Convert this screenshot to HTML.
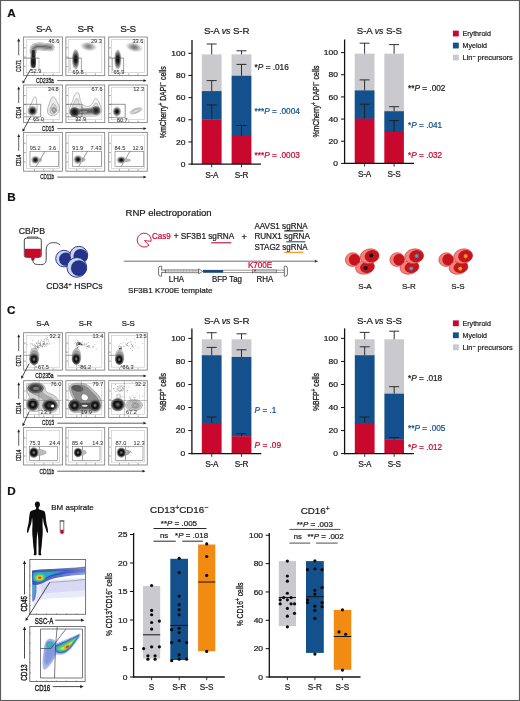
<!DOCTYPE html>
<html lang="en">
<head>
<meta charset="utf-8">
<title>Figure</title>
<style>
html,body{margin:0;padding:0;background:#fff;}
body{width:520px;height:701px;overflow:hidden;}
svg{display:block;font-family:'Liberation Sans', Arial, sans-serif;color:#1c1c1c;}
text{fill:currentColor;stroke:currentColor;stroke-width:0.22px;}
</style>
</head>
<body>
<svg width="520" height="701" viewBox="0 0 520 701" fill="#1c1c1c">
<defs>
<filter id="b0" x="-20%" y="-20%" width="140%" height="140%"><feGaussianBlur stdDeviation="0.3"/></filter>
<filter id="b0u" filterUnits="userSpaceOnUse" x="0" y="0" width="520" height="701"><feGaussianBlur stdDeviation="0.3"/></filter>
<filter id="b1" x="-20%" y="-20%" width="140%" height="140%"><feGaussianBlur stdDeviation="0.6"/></filter>
<filter id="b2" x="-20%" y="-20%" width="140%" height="140%"><feGaussianBlur stdDeviation="1.2"/></filter>
<linearGradient id="band1" x1="0" y1="0" x2="1" y2="0"><stop offset="0" stop-color="#3a50c2"/><stop offset="0.45" stop-color="#4c61cc"/><stop offset="1" stop-color="#8996e0"/></linearGradient>
<linearGradient id="band2" x1="0" y1="0" x2="1" y2="0"><stop offset="0" stop-color="#2a3fb0"/><stop offset="0.5" stop-color="#3b50c0"/><stop offset="1" stop-color="#6f7fd6"/></linearGradient>
</defs>
<rect x="0.55" y="0.50" width="518.90" height="700.00" fill="#fff" stroke="#5a5a5a" stroke-width="1.1" />
<text font-size="11.70" color="#111" font-weight="bold" transform="translate(7.30 16.90) scale(1.0 1)">A</text>
<text font-size="11.70" color="#111" font-weight="bold" transform="translate(7.30 200.70) scale(1.0 1)">B</text>
<text font-size="11.70" color="#111" font-weight="bold" transform="translate(7.10 313.90) scale(1.0 1)">C</text>
<text font-size="11.70" color="#111" font-weight="bold" transform="translate(7.30 495.20) scale(1.0 1)">D</text>
<rect x="201.80" y="54.35" width="19.80" height="37.03" fill="#C9C9CE" />
<rect x="201.80" y="91.08" width="19.80" height="28.55" fill="#14508C" />
<rect x="201.80" y="119.34" width="19.80" height="44.76" fill="#C9082E" />
<line x1="211.70" y1="119.34" x2="211.70" y2="104.90" stroke="#1c1c1c" stroke-width="0.9" />
<line x1="206.70" y1="104.90" x2="216.70" y2="104.90" stroke="#1c1c1c" stroke-width="0.9" />
<line x1="211.70" y1="91.08" x2="211.70" y2="80.60" stroke="#1c1c1c" stroke-width="0.9" />
<line x1="206.70" y1="80.60" x2="216.70" y2="80.60" stroke="#1c1c1c" stroke-width="0.9" />
<line x1="211.70" y1="54.35" x2="211.70" y2="44.00" stroke="#1c1c1c" stroke-width="0.9" />
<line x1="206.70" y1="44.00" x2="216.70" y2="44.00" stroke="#1c1c1c" stroke-width="0.9" />
<rect x="231.60" y="54.35" width="19.80" height="21.74" fill="#C9C9CE" />
<rect x="231.60" y="75.79" width="19.80" height="60.24" fill="#14508C" />
<rect x="231.60" y="135.74" width="19.80" height="28.36" fill="#C9082E" />
<line x1="241.50" y1="135.74" x2="241.50" y2="125.50" stroke="#1c1c1c" stroke-width="0.9" />
<line x1="236.50" y1="125.50" x2="246.50" y2="125.50" stroke="#1c1c1c" stroke-width="0.9" />
<line x1="241.50" y1="75.79" x2="241.50" y2="64.40" stroke="#1c1c1c" stroke-width="0.9" />
<line x1="236.50" y1="64.40" x2="246.50" y2="64.40" stroke="#1c1c1c" stroke-width="0.9" />
<line x1="241.50" y1="54.35" x2="241.50" y2="50.80" stroke="#1c1c1c" stroke-width="0.9" />
<line x1="236.50" y1="50.80" x2="246.50" y2="50.80" stroke="#1c1c1c" stroke-width="0.9" />
<line x1="192.00" y1="40.00" x2="192.00" y2="164.70" stroke="#111" stroke-width="1.3" />
<line x1="191.40" y1="164.10" x2="261.00" y2="164.10" stroke="#111" stroke-width="1.3" />
<line x1="188.40" y1="164.10" x2="192.00" y2="164.10" stroke="#111" stroke-width="1.0" />
<text font-size="7.39" text-anchor="end" transform="translate(185.40 166.75) scale(1.15 1)">0</text>
<line x1="188.40" y1="141.94" x2="192.00" y2="141.94" stroke="#111" stroke-width="1.0" />
<text font-size="7.39" text-anchor="end" transform="translate(185.40 144.59) scale(1.15 1)">20</text>
<line x1="188.40" y1="119.78" x2="192.00" y2="119.78" stroke="#111" stroke-width="1.0" />
<text font-size="7.39" text-anchor="end" transform="translate(185.40 122.43) scale(1.15 1)">40</text>
<line x1="188.40" y1="97.62" x2="192.00" y2="97.62" stroke="#111" stroke-width="1.0" />
<text font-size="7.39" text-anchor="end" transform="translate(185.40 100.27) scale(1.15 1)">60</text>
<line x1="188.40" y1="75.46" x2="192.00" y2="75.46" stroke="#111" stroke-width="1.0" />
<text font-size="7.39" text-anchor="end" transform="translate(185.40 78.11) scale(1.15 1)">80</text>
<line x1="188.40" y1="53.30" x2="192.00" y2="53.30" stroke="#111" stroke-width="1.0" />
<text font-size="7.39" text-anchor="end" transform="translate(185.40 55.95) scale(1.15 1)">100</text>
<line x1="211.70" y1="164.10" x2="211.70" y2="167.30" stroke="#1c1c1c" stroke-width="0.9" />
<text font-size="8.20" text-anchor="middle" transform="translate(211.70 177.70) scale(1.0 1)" letter-spacing="-0.2">S-A</text>
<line x1="241.50" y1="164.10" x2="241.50" y2="167.30" stroke="#1c1c1c" stroke-width="0.9" />
<text font-size="8.20" text-anchor="middle" transform="translate(241.50 177.70) scale(1.0 1)" letter-spacing="-0.2">S-R</text>
<text font-size="9.70" text-anchor="middle" transform="translate(226.60 34.40) scale(1.0 1)" letter-spacing="-0.12">S-A <tspan font-style="italic" font-size="92%">vs</tspan> S-R</text>
<text x="166.10" y="102.20" font-size="9.0" text-anchor="middle" textLength="72" lengthAdjust="spacingAndGlyphs" transform="rotate(-90 166.10 102.20)" style="stroke-width:0.3px">%mCherry<tspan font-size="70%" dy="-0.42em">+</tspan><tspan dy="0.294em" font-size="100%">​</tspan> DAPI<tspan font-size="70%" dy="-0.42em">−</tspan><tspan dy="0.294em" font-size="100%">​</tspan> cells</text>
<text font-size="8.25" transform="translate(254.60 70.00) scale(1.0 1)">*<tspan font-style="italic">P</tspan> = .016</text>
<text font-size="8.25" color="#14508C" transform="translate(254.60 113.90) scale(1.0 1)">***<tspan font-style="italic">P</tspan> = .0004</text>
<text font-size="8.25" color="#C9082E" transform="translate(254.60 158.00) scale(1.0 1)">***<tspan font-style="italic">P</tspan> = .0003</text>
<rect x="354.70" y="53.65" width="19.80" height="37.03" fill="#C9C9CE" />
<rect x="354.70" y="90.38" width="19.80" height="28.55" fill="#14508C" />
<rect x="354.70" y="118.64" width="19.80" height="44.76" fill="#C9082E" />
<line x1="364.60" y1="118.64" x2="364.60" y2="104.20" stroke="#1c1c1c" stroke-width="0.9" />
<line x1="359.60" y1="104.20" x2="369.60" y2="104.20" stroke="#1c1c1c" stroke-width="0.9" />
<line x1="364.60" y1="90.38" x2="364.60" y2="79.90" stroke="#1c1c1c" stroke-width="0.9" />
<line x1="359.60" y1="79.90" x2="369.60" y2="79.90" stroke="#1c1c1c" stroke-width="0.9" />
<line x1="364.60" y1="53.65" x2="364.60" y2="43.20" stroke="#1c1c1c" stroke-width="0.9" />
<line x1="359.60" y1="43.20" x2="369.60" y2="43.20" stroke="#1c1c1c" stroke-width="0.9" />
<rect x="384.30" y="53.65" width="19.60" height="57.86" fill="#C9C9CE" />
<rect x="384.30" y="111.21" width="19.60" height="20.80" fill="#14508C" />
<rect x="384.30" y="131.71" width="19.60" height="31.69" fill="#C9082E" />
<line x1="394.10" y1="131.71" x2="394.10" y2="120.60" stroke="#1c1c1c" stroke-width="0.9" />
<line x1="389.10" y1="120.60" x2="399.10" y2="120.60" stroke="#1c1c1c" stroke-width="0.9" />
<line x1="394.10" y1="111.21" x2="394.10" y2="106.70" stroke="#1c1c1c" stroke-width="0.9" />
<line x1="389.10" y1="106.70" x2="399.10" y2="106.70" stroke="#1c1c1c" stroke-width="0.9" />
<line x1="394.10" y1="53.65" x2="394.10" y2="44.60" stroke="#1c1c1c" stroke-width="0.9" />
<line x1="389.10" y1="44.60" x2="399.10" y2="44.60" stroke="#1c1c1c" stroke-width="0.9" />
<line x1="344.60" y1="39.50" x2="344.60" y2="164.00" stroke="#111" stroke-width="1.3" />
<line x1="344.00" y1="163.40" x2="414.00" y2="163.40" stroke="#111" stroke-width="1.3" />
<line x1="341.00" y1="163.40" x2="344.60" y2="163.40" stroke="#111" stroke-width="1.0" />
<text font-size="7.39" text-anchor="end" transform="translate(338.00 166.05) scale(1.15 1)">0</text>
<line x1="341.00" y1="141.24" x2="344.60" y2="141.24" stroke="#111" stroke-width="1.0" />
<text font-size="7.39" text-anchor="end" transform="translate(338.00 143.89) scale(1.15 1)">20</text>
<line x1="341.00" y1="119.08" x2="344.60" y2="119.08" stroke="#111" stroke-width="1.0" />
<text font-size="7.39" text-anchor="end" transform="translate(338.00 121.73) scale(1.15 1)">40</text>
<line x1="341.00" y1="96.92" x2="344.60" y2="96.92" stroke="#111" stroke-width="1.0" />
<text font-size="7.39" text-anchor="end" transform="translate(338.00 99.57) scale(1.15 1)">60</text>
<line x1="341.00" y1="74.76" x2="344.60" y2="74.76" stroke="#111" stroke-width="1.0" />
<text font-size="7.39" text-anchor="end" transform="translate(338.00 77.41) scale(1.15 1)">80</text>
<line x1="341.00" y1="52.60" x2="344.60" y2="52.60" stroke="#111" stroke-width="1.0" />
<text font-size="7.39" text-anchor="end" transform="translate(338.00 55.25) scale(1.15 1)">100</text>
<line x1="364.60" y1="163.40" x2="364.60" y2="166.60" stroke="#1c1c1c" stroke-width="0.9" />
<text font-size="8.20" text-anchor="middle" transform="translate(364.60 177.00) scale(1.0 1)" letter-spacing="-0.2">S-A</text>
<line x1="394.10" y1="163.40" x2="394.10" y2="166.60" stroke="#1c1c1c" stroke-width="0.9" />
<text font-size="8.20" text-anchor="middle" transform="translate(394.10 177.00) scale(1.0 1)" letter-spacing="-0.2">S-S</text>
<text font-size="9.70" text-anchor="middle" transform="translate(379.30 33.50) scale(1.0 1)" letter-spacing="-0.12">S-A <tspan font-style="italic" font-size="92%">vs</tspan> S-S</text>
<text x="318.90" y="101.60" font-size="9.0" text-anchor="middle" textLength="72" lengthAdjust="spacingAndGlyphs" transform="rotate(-90 318.90 101.60)" style="stroke-width:0.3px">%mCherry<tspan font-size="70%" dy="-0.42em">+</tspan><tspan dy="0.294em" font-size="100%">​</tspan> DAPI<tspan font-size="70%" dy="-0.42em">−</tspan><tspan dy="0.294em" font-size="100%">​</tspan> cells</text>
<text font-size="8.25" transform="translate(408.00 90.90) scale(1.0 1)">**<tspan font-style="italic">P</tspan> = .002</text>
<text font-size="8.25" color="#14508C" transform="translate(408.00 127.80) scale(1.0 1)">*<tspan font-style="italic">P</tspan> = .041</text>
<text font-size="8.25" color="#C9082E" transform="translate(408.00 157.50) scale(1.0 1)">*<tspan font-style="italic">P</tspan> = .032</text>
<rect x="452.90" y="30.65" width="5.90" height="5.80" fill="#C9082E" />
<text font-size="7.70" x="462.50" y="36.20" textLength="28.40" lengthAdjust="spacingAndGlyphs">Erythroid</text>
<rect x="452.90" y="42.65" width="5.90" height="5.80" fill="#14508C" />
<text font-size="7.70" x="462.50" y="48.20" textLength="24.50" lengthAdjust="spacingAndGlyphs">Myeloid</text>
<rect x="452.90" y="54.65" width="5.90" height="5.80" fill="#C9C9CE" />
<text font-size="7.70" x="462.50" y="60.20" textLength="50.30" lengthAdjust="spacingAndGlyphs">Lin<tspan font-size="70%" dy="-0.42em">−</tspan><tspan dy="0.294em" font-size="100%">​</tspan> precursors</text>
<rect x="201.80" y="339.32" width="19.80" height="16.20" fill="#C9C9CE" />
<rect x="201.80" y="355.22" width="19.80" height="68.04" fill="#14508C" />
<rect x="201.80" y="422.96" width="19.80" height="30.64" fill="#C9082E" />
<line x1="211.70" y1="422.96" x2="211.70" y2="417.00" stroke="#1c1c1c" stroke-width="0.9" />
<line x1="206.70" y1="417.00" x2="216.70" y2="417.00" stroke="#1c1c1c" stroke-width="0.9" />
<line x1="211.70" y1="355.22" x2="211.70" y2="347.40" stroke="#1c1c1c" stroke-width="0.9" />
<line x1="206.70" y1="347.40" x2="216.70" y2="347.40" stroke="#1c1c1c" stroke-width="0.9" />
<line x1="211.70" y1="339.32" x2="211.70" y2="332.70" stroke="#1c1c1c" stroke-width="0.9" />
<line x1="206.70" y1="332.70" x2="216.70" y2="332.70" stroke="#1c1c1c" stroke-width="0.9" />
<rect x="231.60" y="339.32" width="19.80" height="17.93" fill="#C9C9CE" />
<rect x="231.60" y="356.95" width="19.80" height="79.56" fill="#14508C" />
<rect x="231.60" y="436.20" width="19.80" height="17.40" fill="#C9082E" />
<line x1="241.50" y1="436.20" x2="241.50" y2="433.70" stroke="#1c1c1c" stroke-width="0.9" />
<line x1="236.50" y1="433.70" x2="246.50" y2="433.70" stroke="#1c1c1c" stroke-width="0.9" />
<line x1="241.50" y1="356.95" x2="241.50" y2="349.80" stroke="#1c1c1c" stroke-width="0.9" />
<line x1="236.50" y1="349.80" x2="246.50" y2="349.80" stroke="#1c1c1c" stroke-width="0.9" />
<line x1="241.50" y1="339.32" x2="241.50" y2="333.80" stroke="#1c1c1c" stroke-width="0.9" />
<line x1="236.50" y1="333.80" x2="246.50" y2="333.80" stroke="#1c1c1c" stroke-width="0.9" />
<line x1="191.90" y1="328.40" x2="191.90" y2="454.20" stroke="#111" stroke-width="1.3" />
<line x1="191.30" y1="453.60" x2="261.30" y2="453.60" stroke="#111" stroke-width="1.3" />
<line x1="188.30" y1="453.60" x2="191.90" y2="453.60" stroke="#111" stroke-width="1.0" />
<text font-size="7.39" text-anchor="end" transform="translate(185.30 456.25) scale(1.15 1)">0</text>
<line x1="188.30" y1="430.56" x2="191.90" y2="430.56" stroke="#111" stroke-width="1.0" />
<text font-size="7.39" text-anchor="end" transform="translate(185.30 433.21) scale(1.15 1)">20</text>
<line x1="188.30" y1="407.52" x2="191.90" y2="407.52" stroke="#111" stroke-width="1.0" />
<text font-size="7.39" text-anchor="end" transform="translate(185.30 410.17) scale(1.15 1)">40</text>
<line x1="188.30" y1="384.48" x2="191.90" y2="384.48" stroke="#111" stroke-width="1.0" />
<text font-size="7.39" text-anchor="end" transform="translate(185.30 387.13) scale(1.15 1)">60</text>
<line x1="188.30" y1="361.44" x2="191.90" y2="361.44" stroke="#111" stroke-width="1.0" />
<text font-size="7.39" text-anchor="end" transform="translate(185.30 364.09) scale(1.15 1)">80</text>
<line x1="188.30" y1="338.40" x2="191.90" y2="338.40" stroke="#111" stroke-width="1.0" />
<text font-size="7.39" text-anchor="end" transform="translate(185.30 341.05) scale(1.15 1)">100</text>
<line x1="211.70" y1="453.60" x2="211.70" y2="456.80" stroke="#1c1c1c" stroke-width="0.9" />
<text font-size="8.20" text-anchor="middle" transform="translate(211.70 467.20) scale(1.0 1)" letter-spacing="-0.2">S-A</text>
<line x1="241.50" y1="453.60" x2="241.50" y2="456.80" stroke="#1c1c1c" stroke-width="0.9" />
<text font-size="8.20" text-anchor="middle" transform="translate(241.50 467.20) scale(1.0 1)" letter-spacing="-0.2">S-R</text>
<text font-size="9.70" text-anchor="middle" transform="translate(226.60 324.00) scale(1.0 1)" letter-spacing="-0.12">S-A <tspan font-style="italic" font-size="92%">vs</tspan> S-R</text>
<text x="165.90" y="392.00" font-size="9.0" text-anchor="middle" textLength="38" lengthAdjust="spacingAndGlyphs" transform="rotate(-90 165.90 392.00)" style="stroke-width:0.3px">%BFP<tspan font-size="70%" dy="-0.42em">+</tspan><tspan dy="0.294em" font-size="100%">​</tspan> cells</text>
<text font-size="8.25" color="#14508C" transform="translate(254.60 413.20) scale(1.0 1)"><tspan font-style="italic">P</tspan> = .1</text>
<text font-size="8.25" color="#C9082E" transform="translate(254.60 447.50) scale(1.0 1)"><tspan font-style="italic">P</tspan> = .09</text>
<rect x="354.80" y="339.32" width="19.80" height="16.20" fill="#C9C9CE" />
<rect x="354.80" y="355.22" width="19.80" height="68.04" fill="#14508C" />
<rect x="354.80" y="422.96" width="19.80" height="30.64" fill="#C9082E" />
<line x1="364.70" y1="422.96" x2="364.70" y2="417.00" stroke="#1c1c1c" stroke-width="0.9" />
<line x1="359.70" y1="417.00" x2="369.70" y2="417.00" stroke="#1c1c1c" stroke-width="0.9" />
<line x1="364.70" y1="355.22" x2="364.70" y2="346.80" stroke="#1c1c1c" stroke-width="0.9" />
<line x1="359.70" y1="346.80" x2="369.70" y2="346.80" stroke="#1c1c1c" stroke-width="0.9" />
<line x1="364.70" y1="339.32" x2="364.70" y2="332.40" stroke="#1c1c1c" stroke-width="0.9" />
<line x1="359.70" y1="332.40" x2="369.70" y2="332.40" stroke="#1c1c1c" stroke-width="0.9" />
<rect x="384.40" y="339.32" width="19.60" height="54.67" fill="#C9C9CE" />
<rect x="384.40" y="393.70" width="19.60" height="45.92" fill="#14508C" />
<rect x="384.40" y="439.32" width="19.60" height="14.28" fill="#C9082E" />
<line x1="394.20" y1="439.32" x2="394.20" y2="437.60" stroke="#1c1c1c" stroke-width="0.9" />
<line x1="389.20" y1="437.60" x2="399.20" y2="437.60" stroke="#1c1c1c" stroke-width="0.9" />
<line x1="394.20" y1="393.70" x2="394.20" y2="386.70" stroke="#1c1c1c" stroke-width="0.9" />
<line x1="389.20" y1="386.70" x2="399.20" y2="386.70" stroke="#1c1c1c" stroke-width="0.9" />
<line x1="394.20" y1="339.32" x2="394.20" y2="331.20" stroke="#1c1c1c" stroke-width="0.9" />
<line x1="389.20" y1="331.20" x2="399.20" y2="331.20" stroke="#1c1c1c" stroke-width="0.9" />
<line x1="344.60" y1="328.40" x2="344.60" y2="454.20" stroke="#111" stroke-width="1.3" />
<line x1="344.00" y1="453.60" x2="414.00" y2="453.60" stroke="#111" stroke-width="1.3" />
<line x1="341.00" y1="453.60" x2="344.60" y2="453.60" stroke="#111" stroke-width="1.0" />
<text font-size="7.39" text-anchor="end" transform="translate(338.00 456.25) scale(1.15 1)">0</text>
<line x1="341.00" y1="430.56" x2="344.60" y2="430.56" stroke="#111" stroke-width="1.0" />
<text font-size="7.39" text-anchor="end" transform="translate(338.00 433.21) scale(1.15 1)">20</text>
<line x1="341.00" y1="407.52" x2="344.60" y2="407.52" stroke="#111" stroke-width="1.0" />
<text font-size="7.39" text-anchor="end" transform="translate(338.00 410.17) scale(1.15 1)">40</text>
<line x1="341.00" y1="384.48" x2="344.60" y2="384.48" stroke="#111" stroke-width="1.0" />
<text font-size="7.39" text-anchor="end" transform="translate(338.00 387.13) scale(1.15 1)">60</text>
<line x1="341.00" y1="361.44" x2="344.60" y2="361.44" stroke="#111" stroke-width="1.0" />
<text font-size="7.39" text-anchor="end" transform="translate(338.00 364.09) scale(1.15 1)">80</text>
<line x1="341.00" y1="338.40" x2="344.60" y2="338.40" stroke="#111" stroke-width="1.0" />
<text font-size="7.39" text-anchor="end" transform="translate(338.00 341.05) scale(1.15 1)">100</text>
<line x1="364.70" y1="453.60" x2="364.70" y2="456.80" stroke="#1c1c1c" stroke-width="0.9" />
<text font-size="8.20" text-anchor="middle" transform="translate(364.70 467.20) scale(1.0 1)" letter-spacing="-0.2">S-A</text>
<line x1="394.20" y1="453.60" x2="394.20" y2="456.80" stroke="#1c1c1c" stroke-width="0.9" />
<text font-size="8.20" text-anchor="middle" transform="translate(394.20 467.20) scale(1.0 1)" letter-spacing="-0.2">S-S</text>
<text font-size="9.70" text-anchor="middle" transform="translate(379.40 324.00) scale(1.0 1)" letter-spacing="-0.12">S-A <tspan font-style="italic" font-size="92%">vs</tspan> S-S</text>
<text x="318.60" y="392.00" font-size="9.0" text-anchor="middle" textLength="38" lengthAdjust="spacingAndGlyphs" transform="rotate(-90 318.60 392.00)" style="stroke-width:0.3px">%BFP<tspan font-size="70%" dy="-0.42em">+</tspan><tspan dy="0.294em" font-size="100%">​</tspan> cells</text>
<text font-size="8.25" transform="translate(408.00 380.50) scale(1.0 1)">*<tspan font-style="italic">P</tspan> = .018</text>
<text font-size="8.25" color="#14508C" transform="translate(408.00 430.90) scale(1.0 1)">**<tspan font-style="italic">P</tspan> = .005</text>
<text font-size="8.25" color="#C9082E" transform="translate(408.00 449.90) scale(1.0 1)">*<tspan font-style="italic">P</tspan> = .012</text>
<rect x="452.90" y="320.40" width="5.90" height="5.80" fill="#C9082E" />
<text font-size="7.70" x="462.50" y="325.95" textLength="28.40" lengthAdjust="spacingAndGlyphs">Erythroid</text>
<rect x="452.90" y="332.40" width="5.90" height="5.80" fill="#14508C" />
<text font-size="7.70" x="462.50" y="337.95" textLength="24.50" lengthAdjust="spacingAndGlyphs">Myeloid</text>
<rect x="452.90" y="344.40" width="5.90" height="5.80" fill="#C9C9CE" />
<text font-size="7.70" x="462.50" y="349.95" textLength="50.30" lengthAdjust="spacingAndGlyphs">Lin<tspan font-size="70%" dy="-0.42em">−</tspan><tspan dy="0.294em" font-size="100%">​</tspan> precursors</text>
<text font-size="8.60" x="18.80" y="233.80" textLength="26.20" lengthAdjust="spacingAndGlyphs">CB/PB</text>
<path d="M27.5 238.3 L27.5 237 L37.7 237 L37.7 238.3" fill="none" stroke="#333" stroke-width="0.8"/>
<rect x="24.3" y="238.2" width="17" height="19.2" rx="2" ry="2" fill="#fff" stroke="#333" stroke-width="0.9"/>
<path d="M24.75 248.8 L40.85 248.8 L40.85 255.4 Q40.85 256.95 39.3 256.95 L26.3 256.95 Q24.75 256.95 24.75 255.4 Z" fill="#C9082E"/>
<path d="M31.2 257.3 L34.6 257.3 L34.0 260.2 L31.8 260.2 Z" fill="#C9082E" stroke="#7a0d1c" stroke-width="0.4"/>
<path d="M32.9 260.2 C32.9 264.5 36 264.6 40.5 264.6 C45 264.6 46.2 263 46.2 258 L46.2 250 C46.2 244 50 242.6 53.5 242.6 C57 242.6 58.8 243.6 60.2 245" fill="none" stroke="#222" stroke-width="0.8"/>
<circle cx="64.0" cy="258.6" r="8.3" fill="#C9D6F0" stroke="#1F2C7C" stroke-width="0.9"/>
<circle cx="65.72" cy="259.22" r="6.64" fill="#25338A"/>
<circle cx="78.8" cy="255.2" r="8.9" fill="#C9D6F0" stroke="#1F2C7C" stroke-width="0.9"/>
<circle cx="80.57" cy="256.03" r="7.12" fill="#25338A"/>
<circle cx="76.8" cy="267.4" r="9.9" fill="#C9D6F0" stroke="#1F2C7C" stroke-width="0.9"/>
<circle cx="78.85" cy="268.14" r="7.92" fill="#25338A"/>
<text font-size="8.60" x="46.30" y="288.80" textLength="56.20" lengthAdjust="spacingAndGlyphs">CD34<tspan font-size="70%" dy="-0.42em">+</tspan><tspan dy="0.294em" font-size="100%">​</tspan> HSPCs</text>
<text font-size="9.60" x="125.50" y="215.60" textLength="86.20" lengthAdjust="spacingAndGlyphs">RNP electroporation</text>
<path d="M151.1 241.3 A7.0 7.0 0 1 0 149 245.2 L144.4 240.6 Z" fill="none" stroke="#C9082E" stroke-width="0.9" stroke-linejoin="round"/>
<text font-size="8.20" color="#C9082E" x="152.00" y="238.60" textLength="18.80" lengthAdjust="spacingAndGlyphs">Cas9</text>
<text font-size="8.20" x="173.80" y="238.60" textLength="60.40" lengthAdjust="spacingAndGlyphs">+ SF3B1 sgRNA</text>
<line x1="211.30" y1="242.80" x2="231.30" y2="242.80" stroke="#C9082E" stroke-width="1.1" />
<text font-size="9.20" transform="translate(241.40 239.60) scale(1.0 1)">+</text>
<text font-size="8.20" x="254.40" y="228.50" textLength="53.30" lengthAdjust="spacingAndGlyphs">AAVS1 sgRNA</text>
<text font-size="8.20" x="254.40" y="238.90" textLength="55.40" lengthAdjust="spacingAndGlyphs">RUNX1 sgRNA</text>
<text font-size="8.20" x="254.40" y="249.60" textLength="53.30" lengthAdjust="spacingAndGlyphs">STAG2 sgRNA</text>
<line x1="284.30" y1="230.90" x2="303.40" y2="230.90" stroke="#111" stroke-width="1.1" />
<line x1="286.30" y1="241.80" x2="305.40" y2="241.80" stroke="#14508C" stroke-width="1.1" />
<line x1="284.30" y1="252.30" x2="303.40" y2="252.30" stroke="#F28B12" stroke-width="1.1" />
<line x1="123.80" y1="261.20" x2="315.30" y2="261.20" stroke="#4a4a4a" stroke-width="0.8" />
<polygon points="318.20,261.20 314.80,262.80 314.80,259.60" fill="#4a4a4a"/>
<path d="M161.6 266.2 L160.3 266.2 Q158.6 266.2 158.6 268.2 L158.6 274.2 Q158.6 276.2 160.3 276.2 L161.6 276.2 L161.6 272.4 L165.5 272.4 L165.5 270.1 L161.6 270.1 Z" fill="#fff" stroke="#333" stroke-width="0.7"/>
<rect x="165.50" y="269.90" width="33.20" height="2.90" fill="#d9d9d9" stroke="#444" stroke-width="0.6" />
<line x1="168.50" y1="270.00" x2="168.50" y2="272.70" stroke="#999" stroke-width="0.5" />
<line x1="171.50" y1="270.00" x2="171.50" y2="272.70" stroke="#999" stroke-width="0.5" />
<line x1="174.50" y1="270.00" x2="174.50" y2="272.70" stroke="#999" stroke-width="0.5" />
<line x1="177.50" y1="270.00" x2="177.50" y2="272.70" stroke="#999" stroke-width="0.5" />
<line x1="180.50" y1="270.00" x2="180.50" y2="272.70" stroke="#999" stroke-width="0.5" />
<line x1="183.50" y1="270.00" x2="183.50" y2="272.70" stroke="#999" stroke-width="0.5" />
<line x1="186.50" y1="270.00" x2="186.50" y2="272.70" stroke="#999" stroke-width="0.5" />
<line x1="189.50" y1="270.00" x2="189.50" y2="272.70" stroke="#999" stroke-width="0.5" />
<line x1="192.50" y1="270.00" x2="192.50" y2="272.70" stroke="#999" stroke-width="0.5" />
<line x1="195.50" y1="270.00" x2="195.50" y2="272.70" stroke="#999" stroke-width="0.5" />
<path d="M198.7 268.8 L202.6 271.35 L198.7 273.9 Z" fill="#fff" stroke="#333" stroke-width="0.6"/>
<rect x="203.00" y="269.90" width="20.20" height="2.90" fill="#1B4774" />
<path d="M223.2 270.2 L252.5 270.2 M223.2 272.5 L252.5 272.5" stroke="#444" stroke-width="0.55" fill="none"/>
<rect x="252.50" y="269.90" width="23.80" height="2.90" fill="#d2d2d2" stroke="#444" stroke-width="0.6" />
<rect x="254.20" y="269.70" width="1.60" height="1.60" fill="#C9082E" />
<path d="M276.3 270.2 L284.3 270.2 M276.3 272.5 L284.3 272.5" stroke="#444" stroke-width="0.55" fill="none"/>
<path d="M284.3 266.2 L285.6 266.2 Q287.4 266.2 287.4 268.2 L287.4 274.2 Q287.4 276.2 285.6 276.2 L284.3 276.2 Z" fill="#fff" stroke="#333" stroke-width="0.7"/>
<text font-size="8.20" color="#C9082E" x="248.00" y="268.40" textLength="24.20" lengthAdjust="spacingAndGlyphs">K700E</text>
<text font-size="8.20" x="168.80" y="281.60" textLength="15.20" lengthAdjust="spacingAndGlyphs">LHA</text>
<text font-size="8.20" x="212.00" y="281.60" textLength="30.00" lengthAdjust="spacingAndGlyphs">BFP Tag</text>
<text font-size="8.20" x="256.60" y="281.60" textLength="16.80" lengthAdjust="spacingAndGlyphs">RHA</text>
<text font-size="8.10" x="128.00" y="292.60" textLength="84.50" lengthAdjust="spacingAndGlyphs">SF3B1 K700E template</text>
<g transform="translate(352.70 259.60) rotate(-10)">
<ellipse cx="0" cy="0" rx="7.4" ry="6.9" fill="#F1837B" stroke="#C9262B" stroke-width="0.5"/>
<ellipse cx="1.70" cy="0.41" rx="5.55" ry="5.73" fill="#C5141B"/>
</g>
<g transform="translate(365.00 267.30) rotate(-12)">
<ellipse cx="0" cy="0" rx="9.6" ry="6.8" fill="#F1837B" stroke="#C9262B" stroke-width="0.5"/>
<ellipse cx="2.21" cy="0.41" rx="7.20" ry="5.64" fill="#C5141B"/>
</g>
<g transform="translate(369.60 256.20) rotate(-12)">
<ellipse cx="0" cy="0" rx="9.6" ry="7.3" fill="#F1837B" stroke="#C9262B" stroke-width="0.5"/>
<ellipse cx="2.21" cy="0.44" rx="7.20" ry="6.06" fill="#C5141B"/>
</g>
<circle cx="371.2" cy="255.5" r="2.1" fill="#111"/>
<circle cx="365.7" cy="268" r="2.1" fill="#111"/>
<g transform="translate(397.20 259.60) rotate(-10)">
<ellipse cx="0" cy="0" rx="7.4" ry="6.9" fill="#F1837B" stroke="#C9262B" stroke-width="0.5"/>
<ellipse cx="1.70" cy="0.41" rx="5.55" ry="5.73" fill="#C5141B"/>
</g>
<g transform="translate(409.50 267.30) rotate(-12)">
<ellipse cx="0" cy="0" rx="9.6" ry="6.8" fill="#F1837B" stroke="#C9262B" stroke-width="0.5"/>
<ellipse cx="2.21" cy="0.41" rx="7.20" ry="5.64" fill="#C5141B"/>
</g>
<g transform="translate(414.10 256.20) rotate(-12)">
<ellipse cx="0" cy="0" rx="9.6" ry="7.3" fill="#F1837B" stroke="#C9262B" stroke-width="0.5"/>
<ellipse cx="2.21" cy="0.44" rx="7.20" ry="6.06" fill="#C5141B"/>
</g>
<polygon points="419.20,256.10 417.97,256.63 418.47,257.87 417.23,257.37 416.70,258.60 416.17,257.37 414.93,257.87 415.43,256.63 414.20,256.10 415.43,255.57 414.93,254.33 416.17,254.83 416.70,253.60 417.23,254.83 418.47,254.33 417.97,255.57" fill="#35A8E0"/>
<polygon points="413.70,268.60 412.47,269.13 412.97,270.37 411.73,269.87 411.20,271.10 410.67,269.87 409.43,270.37 409.93,269.13 408.70,268.60 409.93,268.07 409.43,266.83 410.67,267.33 411.20,266.10 411.73,267.33 412.97,266.83 412.47,268.07" fill="#35A8E0"/>
<g transform="translate(446.20 259.60) rotate(-10)">
<ellipse cx="0" cy="0" rx="7.4" ry="6.9" fill="#F1837B" stroke="#C9262B" stroke-width="0.5"/>
<ellipse cx="1.70" cy="0.41" rx="5.55" ry="5.73" fill="#C5141B"/>
</g>
<g transform="translate(458.50 267.30) rotate(-12)">
<ellipse cx="0" cy="0" rx="9.6" ry="6.8" fill="#F1837B" stroke="#C9262B" stroke-width="0.5"/>
<ellipse cx="2.21" cy="0.41" rx="7.20" ry="5.64" fill="#C5141B"/>
</g>
<g transform="translate(463.10 256.20) rotate(-12)">
<ellipse cx="0" cy="0" rx="9.6" ry="7.3" fill="#F1837B" stroke="#C9262B" stroke-width="0.5"/>
<ellipse cx="2.21" cy="0.44" rx="7.20" ry="6.06" fill="#C5141B"/>
</g>
<polygon points="468.30,256.10 467.02,256.65 467.54,257.94 466.25,257.42 465.70,258.70 465.15,257.42 463.86,257.94 464.38,256.65 463.10,256.10 464.38,255.55 463.86,254.26 465.15,254.78 465.70,253.50 466.25,254.78 467.54,254.26 467.02,255.55" fill="#F7A21B"/>
<polygon points="462.80,268.60 461.52,269.15 462.04,270.44 460.75,269.92 460.20,271.20 459.65,269.92 458.36,270.44 458.88,269.15 457.60,268.60 458.88,268.05 458.36,266.76 459.65,267.28 460.20,266.00 460.75,267.28 462.04,266.76 461.52,268.05" fill="#F7A21B"/>
<text font-size="8.00" text-anchor="middle" transform="translate(365.00 289.20) scale(1.0 1)">S-A</text>
<text font-size="8.00" text-anchor="middle" transform="translate(408.80 289.20) scale(1.0 1)">S-R</text>
<text font-size="8.00" text-anchor="middle" transform="translate(458.00 289.20) scale(1.0 1)">S-S</text>
<g fill="#0b0b0b">
<ellipse cx="37.4" cy="504.6" rx="2.5" ry="3.1"/>
<path d="M36.2 507 L38.6 507 L38.8 509.2 C40.5 509.8 43.6 510.2 44.6 511.6 C45.6 513.2 45.8 518 46.2 521.5 C46.6 524.5 47.6 527 47.8 529.2 C48 530.8 48.3 532.6 47.6 532.8 C47 533 46.4 531.6 46.2 530.2 C45.4 527.6 44.2 525.2 43.6 522.4 C43.3 520.6 43.2 518.6 42.9 517.4 C42.6 520 42.4 523.5 42.6 526.5 C42.9 530.5 42.8 535 42.2 539 C41.9 541.5 42 544 41.6 546.5 C41.3 549 40.8 551.5 40.9 553 C41 554 41.6 554.6 41.2 555.1 C40.8 555.5 39 555.4 38.6 554.9 C38.3 553.5 38.6 550 38.5 547.5 C38.4 545 38.4 543.5 38.3 541 C38.2 537.5 37.8 534 37.5 531.2 C37.2 534 36.8 537.5 36.7 541 C36.6 543.5 36.6 545 36.5 547.5 C36.4 550 36.7 553.5 36.4 554.9 C36 555.4 34.2 555.5 33.8 555.1 C33.4 554.6 34 554 34.1 553 C34.2 551.5 33.7 549 33.4 546.5 C33 544 33.1 541.5 32.8 539 C32.2 535 32.1 530.5 32.4 526.5 C32.6 523.5 32.4 520 32.1 517.4 C31.8 518.6 31.7 520.6 31.4 522.4 C30.8 525.2 29.6 527.6 28.8 530.2 C28.6 531.6 28 533 27.4 532.8 C26.7 532.6 27 530.8 27.2 529.2 C27.4 527 28.4 524.5 28.8 521.5 C29.2 518 29.4 513.2 30.4 511.6 C31.4 510.2 34.5 509.8 36 509.2 Z"/>
</g>
<text font-size="8.10" x="51.30" y="509.60" textLength="42.50" lengthAdjust="spacingAndGlyphs">BM aspirate</text>
<path d="M60.2 521 L60.2 531.8 Q60.2 533.8 62 533.8 Q63.8 533.8 63.8 531.8 L63.8 521 Z" fill="#fff" stroke="#444" stroke-width="0.7"/>
<path d="M60.5 529.8 L63.5 529.8 L63.5 531.8 Q63.5 533.5 62 533.5 Q60.5 533.5 60.5 531.8 Z" fill="#C9082E"/>
<line x1="59.60" y1="520.90" x2="64.40" y2="520.90" stroke="#333" stroke-width="0.8" />
<rect x="143.00" y="586.00" width="17.20" height="72.60" fill="#C9C9CE" />
<line x1="143.00" y1="634.80" x2="160.20" y2="634.80" stroke="#151515" stroke-width="1.0" />
<rect x="170.30" y="558.80" width="17.70" height="101.20" fill="#14508C" />
<line x1="170.30" y1="625.40" x2="188.00" y2="625.40" stroke="#151515" stroke-width="1.0" />
<rect x="198.10" y="544.50" width="17.20" height="106.70" fill="#F28B12" />
<line x1="198.10" y1="582.00" x2="215.30" y2="582.00" stroke="#151515" stroke-width="1.0" />
<circle cx="151.64" cy="585.48" r="1.6" fill="#0a0a0a"/>
<circle cx="151.64" cy="610.44" r="1.6" fill="#0a0a0a"/>
<circle cx="151.64" cy="614.74" r="1.6" fill="#0a0a0a"/>
<circle cx="159.38" cy="621.06" r="1.6" fill="#0a0a0a"/>
<circle cx="151.64" cy="622.49" r="1.6" fill="#0a0a0a"/>
<circle cx="151.64" cy="629.09" r="1.6" fill="#0a0a0a"/>
<circle cx="143.60" cy="648.59" r="1.6" fill="#0a0a0a"/>
<circle cx="151.64" cy="646.87" r="1.6" fill="#0a0a0a"/>
<circle cx="159.38" cy="646.87" r="1.6" fill="#0a0a0a"/>
<circle cx="147.91" cy="655.77" r="1.6" fill="#0a0a0a"/>
<circle cx="155.08" cy="655.77" r="1.6" fill="#0a0a0a"/>
<circle cx="147.91" cy="659.21" r="1.6" fill="#0a0a0a"/>
<circle cx="155.08" cy="659.21" r="1.6" fill="#0a0a0a"/>
<circle cx="179.17" cy="558.23" r="1.6" fill="#0a0a0a"/>
<circle cx="179.17" cy="572.58" r="1.6" fill="#0a0a0a"/>
<circle cx="179.17" cy="596.10" r="1.6" fill="#0a0a0a"/>
<circle cx="179.17" cy="604.70" r="1.6" fill="#0a0a0a"/>
<circle cx="179.17" cy="609.87" r="1.6" fill="#0a0a0a"/>
<circle cx="179.17" cy="614.74" r="1.6" fill="#0a0a0a"/>
<circle cx="171.72" cy="629.66" r="1.6" fill="#0a0a0a"/>
<circle cx="179.17" cy="628.23" r="1.6" fill="#0a0a0a"/>
<circle cx="179.17" cy="632.53" r="1.6" fill="#0a0a0a"/>
<circle cx="171.72" cy="642.57" r="1.6" fill="#0a0a0a"/>
<circle cx="179.17" cy="640.56" r="1.6" fill="#0a0a0a"/>
<circle cx="186.63" cy="642.57" r="1.6" fill="#0a0a0a"/>
<circle cx="179.17" cy="654.91" r="1.6" fill="#0a0a0a"/>
<circle cx="171.72" cy="660.64" r="1.6" fill="#0a0a0a"/>
<circle cx="179.17" cy="659.21" r="1.6" fill="#0a0a0a"/>
<circle cx="186.63" cy="659.21" r="1.6" fill="#0a0a0a"/>
<circle cx="206.71" cy="543.89" r="1.6" fill="#0a0a0a"/>
<circle cx="206.71" cy="556.51" r="1.6" fill="#0a0a0a"/>
<circle cx="206.71" cy="575.44" r="1.6" fill="#0a0a0a"/>
<circle cx="206.71" cy="651.46" r="1.6" fill="#0a0a0a"/>
<line x1="133.60" y1="533.00" x2="133.60" y2="677.60" stroke="#111" stroke-width="1.3" />
<line x1="133.00" y1="677.00" x2="224.80" y2="677.00" stroke="#111" stroke-width="1.3" />
<line x1="130.00" y1="677.00" x2="133.60" y2="677.00" stroke="#111" stroke-width="1.0" />
<text font-size="7.39" text-anchor="end" transform="translate(127.40 679.65) scale(1.15 1)">0</text>
<line x1="130.00" y1="648.50" x2="133.60" y2="648.50" stroke="#111" stroke-width="1.0" />
<text font-size="7.39" text-anchor="end" transform="translate(127.40 651.15) scale(1.15 1)">5</text>
<line x1="130.00" y1="620.00" x2="133.60" y2="620.00" stroke="#111" stroke-width="1.0" />
<text font-size="7.39" text-anchor="end" transform="translate(127.40 622.65) scale(1.15 1)">10</text>
<line x1="130.00" y1="591.50" x2="133.60" y2="591.50" stroke="#111" stroke-width="1.0" />
<text font-size="7.39" text-anchor="end" transform="translate(127.40 594.15) scale(1.15 1)">15</text>
<line x1="130.00" y1="563.00" x2="133.60" y2="563.00" stroke="#111" stroke-width="1.0" />
<text font-size="7.39" text-anchor="end" transform="translate(127.40 565.65) scale(1.15 1)">20</text>
<line x1="130.00" y1="534.50" x2="133.60" y2="534.50" stroke="#111" stroke-width="1.0" />
<text font-size="7.39" text-anchor="end" transform="translate(127.40 537.15) scale(1.15 1)">25</text>
<line x1="151.60" y1="677.00" x2="151.60" y2="680.20" stroke="#1c1c1c" stroke-width="0.9" />
<text font-size="8.20" text-anchor="middle" transform="translate(151.60 690.30) scale(1.0 1)">S</text>
<line x1="179.20" y1="677.00" x2="179.20" y2="680.20" stroke="#1c1c1c" stroke-width="0.9" />
<text font-size="8.20" text-anchor="middle" transform="translate(179.20 690.30) scale(1.0 1)">S-R</text>
<line x1="206.70" y1="677.00" x2="206.70" y2="680.20" stroke="#1c1c1c" stroke-width="0.9" />
<text font-size="8.20" text-anchor="middle" transform="translate(206.70 690.30) scale(1.0 1)">S-S</text>
<text font-size="9.80" text-anchor="middle" transform="translate(179.20 513.10) scale(1.0 1)">CD13<tspan font-size="70%" dy="-0.42em">+</tspan><tspan dy="0.294em" font-size="100%">​</tspan>CD16<tspan font-size="70%" dy="-0.42em">−</tspan><tspan dy="0.294em" font-size="100%">​</tspan></text>
<text x="112.00" y="604.50" font-size="9.0" text-anchor="middle" textLength="63" lengthAdjust="spacingAndGlyphs" transform="rotate(-90 112.00 604.50)" style="stroke-width:0.3px">% CD13<tspan font-size="70%" dy="-0.42em">+</tspan><tspan dy="0.294em" font-size="100%">​</tspan>CD16<tspan font-size="70%" dy="-0.42em">−</tspan><tspan dy="0.294em" font-size="100%">​</tspan> cells</text>
<text font-size="8.00" text-anchor="middle" transform="translate(178.90 525.80) scale(1.0 1)">**<tspan font-style="italic">P</tspan> = .005</text>
<line x1="153.50" y1="528.50" x2="206.50" y2="528.50" stroke="#111" stroke-width="0.9" />
<text font-size="7.80" transform="translate(160.00 537.70) scale(1.0 1)">ns</text>
<text font-size="8.00" transform="translate(175.00 537.70) scale(1.0 1)">*<tspan font-style="italic">P</tspan> = .018</text>
<line x1="153.50" y1="541.20" x2="175.70" y2="541.20" stroke="#111" stroke-width="0.9" />
<line x1="182.30" y1="541.20" x2="203.00" y2="541.20" stroke="#111" stroke-width="0.9" />
<rect x="278.80" y="561.10" width="17.20" height="65.10" fill="#C9C9CE" />
<line x1="278.80" y1="597.50" x2="296.00" y2="597.50" stroke="#151515" stroke-width="1.0" />
<rect x="306.00" y="561.10" width="17.80" height="91.80" fill="#14508C" />
<line x1="306.00" y1="596.70" x2="323.80" y2="596.70" stroke="#151515" stroke-width="1.0" />
<rect x="333.80" y="609.90" width="17.50" height="59.90" fill="#F28B12" />
<line x1="333.80" y1="636.50" x2="351.30" y2="636.50" stroke="#151515" stroke-width="1.0" />
<circle cx="287.37" cy="561.10" r="1.6" fill="#0a0a0a"/>
<circle cx="287.37" cy="576.02" r="1.6" fill="#0a0a0a"/>
<circle cx="287.37" cy="581.18" r="1.6" fill="#0a0a0a"/>
<circle cx="287.37" cy="593.23" r="1.6" fill="#0a0a0a"/>
<circle cx="283.64" cy="597.53" r="1.6" fill="#0a0a0a"/>
<circle cx="291.10" cy="597.53" r="1.6" fill="#0a0a0a"/>
<circle cx="280.20" cy="599.83" r="1.6" fill="#0a0a0a"/>
<circle cx="287.37" cy="599.83" r="1.6" fill="#0a0a0a"/>
<circle cx="280.20" cy="603.84" r="1.6" fill="#0a0a0a"/>
<circle cx="291.10" cy="603.84" r="1.6" fill="#0a0a0a"/>
<circle cx="294.54" cy="603.84" r="1.6" fill="#0a0a0a"/>
<circle cx="287.37" cy="608.43" r="1.6" fill="#0a0a0a"/>
<circle cx="287.37" cy="616.18" r="1.6" fill="#0a0a0a"/>
<circle cx="294.54" cy="613.31" r="1.6" fill="#0a0a0a"/>
<circle cx="287.37" cy="626.79" r="1.6" fill="#0a0a0a"/>
<circle cx="314.91" cy="560.81" r="1.6" fill="#0a0a0a"/>
<circle cx="307.45" cy="569.71" r="1.6" fill="#0a0a0a"/>
<circle cx="314.91" cy="568.85" r="1.6" fill="#0a0a0a"/>
<circle cx="322.08" cy="569.71" r="1.6" fill="#0a0a0a"/>
<circle cx="322.08" cy="587.49" r="1.6" fill="#0a0a0a"/>
<circle cx="314.91" cy="590.36" r="1.6" fill="#0a0a0a"/>
<circle cx="314.91" cy="594.09" r="1.6" fill="#0a0a0a"/>
<circle cx="307.45" cy="599.83" r="1.6" fill="#0a0a0a"/>
<circle cx="307.45" cy="602.70" r="1.6" fill="#0a0a0a"/>
<circle cx="322.08" cy="602.70" r="1.6" fill="#0a0a0a"/>
<circle cx="314.91" cy="606.14" r="1.6" fill="#0a0a0a"/>
<circle cx="322.08" cy="606.71" r="1.6" fill="#0a0a0a"/>
<circle cx="314.91" cy="610.44" r="1.6" fill="#0a0a0a"/>
<circle cx="314.91" cy="618.47" r="1.6" fill="#0a0a0a"/>
<circle cx="314.91" cy="654.04" r="1.6" fill="#0a0a0a"/>
<circle cx="342.45" cy="609.87" r="1.6" fill="#0a0a0a"/>
<circle cx="339.01" cy="631.96" r="1.6" fill="#0a0a0a"/>
<circle cx="345.61" cy="634.25" r="1.6" fill="#0a0a0a"/>
<circle cx="342.45" cy="670.11" r="1.6" fill="#0a0a0a"/>
<line x1="269.30" y1="533.00" x2="269.30" y2="677.60" stroke="#111" stroke-width="1.3" />
<line x1="268.70" y1="677.00" x2="360.50" y2="677.00" stroke="#111" stroke-width="1.3" />
<line x1="265.70" y1="677.00" x2="269.30" y2="677.00" stroke="#111" stroke-width="1.0" />
<text font-size="7.39" text-anchor="end" transform="translate(263.10 679.65) scale(1.15 1)">0</text>
<line x1="265.70" y1="648.65" x2="269.30" y2="648.65" stroke="#111" stroke-width="1.0" />
<text font-size="7.39" text-anchor="end" transform="translate(263.10 651.30) scale(1.15 1)">20</text>
<line x1="265.70" y1="620.30" x2="269.30" y2="620.30" stroke="#111" stroke-width="1.0" />
<text font-size="7.39" text-anchor="end" transform="translate(263.10 622.95) scale(1.15 1)">40</text>
<line x1="265.70" y1="591.95" x2="269.30" y2="591.95" stroke="#111" stroke-width="1.0" />
<text font-size="7.39" text-anchor="end" transform="translate(263.10 594.60) scale(1.15 1)">60</text>
<line x1="265.70" y1="563.60" x2="269.30" y2="563.60" stroke="#111" stroke-width="1.0" />
<text font-size="7.39" text-anchor="end" transform="translate(263.10 566.25) scale(1.15 1)">80</text>
<line x1="265.70" y1="535.25" x2="269.30" y2="535.25" stroke="#111" stroke-width="1.0" />
<text font-size="7.39" text-anchor="end" transform="translate(263.10 537.90) scale(1.15 1)">100</text>
<line x1="287.40" y1="677.00" x2="287.40" y2="680.20" stroke="#1c1c1c" stroke-width="0.9" />
<text font-size="8.20" text-anchor="middle" transform="translate(287.40 690.30) scale(1.0 1)">S</text>
<line x1="314.90" y1="677.00" x2="314.90" y2="680.20" stroke="#1c1c1c" stroke-width="0.9" />
<text font-size="8.20" text-anchor="middle" transform="translate(314.90 690.30) scale(1.0 1)">S-R</text>
<line x1="342.40" y1="677.00" x2="342.40" y2="680.20" stroke="#1c1c1c" stroke-width="0.9" />
<text font-size="8.20" text-anchor="middle" transform="translate(342.40 690.30) scale(1.0 1)">S-S</text>
<text font-size="9.80" text-anchor="middle" transform="translate(315.20 514.30) scale(1.0 1)">CD16<tspan font-size="70%" dy="-0.42em">+</tspan><tspan dy="0.294em" font-size="100%">​</tspan></text>
<text x="242.80" y="604.50" font-size="9.0" text-anchor="middle" textLength="43.7" lengthAdjust="spacingAndGlyphs" transform="rotate(-90 242.80 604.50)" style="stroke-width:0.3px">% CD16<tspan font-size="70%" dy="-0.42em">+</tspan><tspan dy="0.294em" font-size="100%">​</tspan> cells</text>
<text font-size="8.00" text-anchor="middle" transform="translate(314.80 526.70) scale(1.0 1)">**<tspan font-style="italic">P</tspan> = .003</text>
<line x1="289.40" y1="529.40" x2="340.40" y2="529.40" stroke="#222" stroke-width="0.8" />
<text font-size="7.60" transform="translate(293.70 538.80) scale(1.0 1)">ns</text>
<text font-size="8.00" transform="translate(307.50 538.80) scale(1.0 1)">**<tspan font-style="italic">P</tspan> = .002</text>
<line x1="289.40" y1="543.10" x2="310.30" y2="543.10" stroke="#222" stroke-width="0.8" />
<line x1="316.00" y1="543.10" x2="337.60" y2="543.10" stroke="#222" stroke-width="0.8" />
<text font-size="9.90" text-anchor="middle" transform="translate(43.80 32.00) scale(1.0 1)" letter-spacing="-0.25">S-A</text>
<text font-size="9.90" text-anchor="middle" transform="translate(85.60 32.00) scale(1.0 1)" letter-spacing="-0.25">S-R</text>
<text font-size="9.90" text-anchor="middle" transform="translate(128.00 32.00) scale(1.0 1)" letter-spacing="-0.25">S-S</text>
<rect x="23.60" y="37.00" width="38.80" height="38.60" fill="#fff" stroke="#858585" stroke-width="0.9" />
<rect x="26.30" y="39.70" width="33.20" height="33.00" fill="none" stroke="#c2c2c2" stroke-width="0.6" />
<line x1="24.00" y1="47.81" x2="25.80" y2="47.81" stroke="#555" stroke-width="0.5" />
<line x1="34.46" y1="75.20" x2="34.46" y2="73.40" stroke="#555" stroke-width="0.5" />
<line x1="24.00" y1="57.07" x2="25.80" y2="57.07" stroke="#555" stroke-width="0.5" />
<line x1="43.78" y1="75.20" x2="43.78" y2="73.40" stroke="#555" stroke-width="0.5" />
<line x1="24.00" y1="66.34" x2="25.80" y2="66.34" stroke="#555" stroke-width="0.5" />
<line x1="53.09" y1="75.20" x2="53.09" y2="73.40" stroke="#555" stroke-width="0.5" />
<rect x="65.90" y="37.00" width="38.80" height="38.60" fill="#fff" stroke="#858585" stroke-width="0.9" />
<rect x="68.60" y="39.70" width="33.20" height="33.00" fill="none" stroke="#c2c2c2" stroke-width="0.6" />
<line x1="66.30" y1="47.81" x2="68.10" y2="47.81" stroke="#555" stroke-width="0.5" />
<line x1="76.76" y1="75.20" x2="76.76" y2="73.40" stroke="#555" stroke-width="0.5" />
<line x1="66.30" y1="57.07" x2="68.10" y2="57.07" stroke="#555" stroke-width="0.5" />
<line x1="86.08" y1="75.20" x2="86.08" y2="73.40" stroke="#555" stroke-width="0.5" />
<line x1="66.30" y1="66.34" x2="68.10" y2="66.34" stroke="#555" stroke-width="0.5" />
<line x1="95.39" y1="75.20" x2="95.39" y2="73.40" stroke="#555" stroke-width="0.5" />
<rect x="108.70" y="37.00" width="38.60" height="38.60" fill="#fff" stroke="#858585" stroke-width="0.9" />
<rect x="111.40" y="39.70" width="33.00" height="33.00" fill="none" stroke="#c2c2c2" stroke-width="0.6" />
<line x1="109.10" y1="47.81" x2="110.90" y2="47.81" stroke="#555" stroke-width="0.5" />
<line x1="119.51" y1="75.20" x2="119.51" y2="73.40" stroke="#555" stroke-width="0.5" />
<line x1="109.10" y1="57.07" x2="110.90" y2="57.07" stroke="#555" stroke-width="0.5" />
<line x1="128.77" y1="75.20" x2="128.77" y2="73.40" stroke="#555" stroke-width="0.5" />
<line x1="109.10" y1="66.34" x2="110.90" y2="66.34" stroke="#555" stroke-width="0.5" />
<line x1="138.04" y1="75.20" x2="138.04" y2="73.40" stroke="#555" stroke-width="0.5" />
<g fill="none" stroke-linecap="round" stroke-linejoin="round" filter="url(#b0u)">
<path d="M33.4 50.5 C33.6 46.8 36 46.2 40 46.4 L50.6 47.4" stroke="#a2a2a2" stroke-width="7.6"/>
<path d="M33.4 50.5 C33.6 46.8 36 46.2 40 46.4 L50.6 47.4" stroke="#ececec" stroke-width="6.8"/>
<path d="M33.4 50.5 C33.6 46.8 36 46.2 40 46.4 L50.6 47.4" stroke="#8a8a8a" stroke-width="5.8"/>
<path d="M33.4 50.5 C33.6 46.8 36 46.2 40 46.4 L50.6 47.4" stroke="#d8d8d8" stroke-width="4.8"/>
<path d="M33.4 50.5 C33.6 46.8 36 46.2 40 46.4 L50.6 47.4" stroke="#777" stroke-width="3.6"/>
<path d="M33.4 50.5 C33.6 46.8 36 46.2 40 46.4 L50.6 47.4" stroke="#a8a8a8" stroke-width="2.4"/>
<path d="M33.4 50.5 C33.6 46.8 36 46.2 40 46.4 L50.6 47.4" stroke="#666" stroke-width="1.2"/>
</g>
<g fill="none" stroke-linecap="round" stroke-linejoin="round" filter="url(#b0u)">
<path d="M33.3 51.5 L33.3 65.6" stroke="#777" stroke-width="5.4"/>
<path d="M33.3 51.5 L33.3 65.6" stroke="#c8c8c8" stroke-width="4.6"/>
<path d="M33.3 51.5 L33.3 65.6" stroke="#4a4a4a" stroke-width="3.8"/>
<path d="M33.3 51.5 L33.3 65.6" stroke="#262626" stroke-width="2.6"/>
</g>
<g transform="translate(33.30 62.00) rotate(0)" filter="url(#b0)">
<ellipse cx="0" cy="0" rx="2.20" ry="5.60" fill="rgb(60,60,60)" stroke="rgb(0,0,0)" stroke-width="0.35"/>
<ellipse cx="0" cy="0" rx="1.32" ry="3.36" fill="rgb(37,37,37)" stroke="rgb(0,0,0)" stroke-width="0.35"/>
<ellipse cx="0" cy="0" rx="0.44" ry="1.12" fill="rgb(20,20,20)" stroke="rgb(0,0,0)" stroke-width="0.35"/>
</g>
<line x1="24.00" y1="58.10" x2="39.00" y2="58.10" stroke="#4a4a4a" stroke-width="0.6" />
<line x1="39.00" y1="58.10" x2="39.00" y2="70.00" stroke="#4a4a4a" stroke-width="0.5" stroke-dasharray="0.8 0.6"/>
<text font-size="5.60" color="#333" transform="translate(48.40 42.80) scale(1.0 1)" style="stroke-width:0.05px">46.6</text>
<text font-size="5.60" color="#333" transform="translate(30.40 72.90) scale(1.0 1)" style="stroke-width:0.05px">52.9</text>
<g transform="translate(88.60 46.50) rotate(8)" filter="url(#b0)">
<ellipse cx="0" cy="0" rx="7.60" ry="3.60" fill="rgb(240,240,240)" stroke="rgb(170,170,170)" stroke-width="0.35"/>
<ellipse cx="0" cy="0" rx="6.08" ry="2.88" fill="rgb(214,214,214)" stroke="rgb(144,144,144)" stroke-width="0.35"/>
<ellipse cx="0" cy="0" rx="4.56" ry="2.16" fill="rgb(189,189,189)" stroke="rgb(119,119,119)" stroke-width="0.35"/>
<ellipse cx="0" cy="0" rx="3.04" ry="1.44" fill="rgb(164,164,164)" stroke="rgb(94,94,94)" stroke-width="0.35"/>
<ellipse cx="0" cy="0" rx="1.52" ry="0.72" fill="rgb(152,152,152)" stroke="rgb(82,82,82)" stroke-width="0.35"/>
</g>
<g transform="translate(75.70 59.30) rotate(0)" filter="url(#b0)">
<ellipse cx="0" cy="0" rx="3.30" ry="9.80" fill="rgb(200,200,200)" stroke="rgb(130,130,130)" stroke-width="0.35"/>
<ellipse cx="0" cy="0" rx="2.77" ry="8.23" fill="rgb(158,158,158)" stroke="rgb(88,88,88)" stroke-width="0.35"/>
<ellipse cx="0" cy="0" rx="2.24" ry="6.66" fill="rgb(117,117,117)" stroke="rgb(47,47,47)" stroke-width="0.35"/>
<ellipse cx="0" cy="0" rx="1.72" ry="5.10" fill="rgb(75,75,75)" stroke="rgb(5,5,5)" stroke-width="0.35"/>
<ellipse cx="0" cy="0" rx="1.19" ry="3.53" fill="rgb(34,34,34)" stroke="rgb(0,0,0)" stroke-width="0.35"/>
<ellipse cx="0" cy="0" rx="0.66" ry="1.96" fill="rgb(20,20,20)" stroke="rgb(0,0,0)" stroke-width="0.35"/>
</g>
<line x1="66.30" y1="58.10" x2="81.40" y2="58.10" stroke="#4a4a4a" stroke-width="0.6" />
<line x1="81.40" y1="58.10" x2="81.40" y2="71.00" stroke="#4a4a4a" stroke-width="0.5" />
<line x1="70.00" y1="58.10" x2="70.00" y2="71.00" stroke="#4a4a4a" stroke-width="0.4" />
<text font-size="5.60" color="#333" transform="translate(91.00 43.00) scale(1.0 1)" style="stroke-width:0.05px">29.3</text>
<text font-size="5.60" color="#333" transform="translate(72.60 74.40) scale(1.0 1)" style="stroke-width:0.05px">69.8</text>
<g transform="translate(134.20 47.20) rotate(14)" filter="url(#b0)">
<ellipse cx="0" cy="0" rx="8.00" ry="3.70" fill="rgb(240,240,240)" stroke="rgb(170,170,170)" stroke-width="0.35"/>
<ellipse cx="0" cy="0" rx="6.40" ry="2.96" fill="rgb(211,211,211)" stroke="rgb(141,141,141)" stroke-width="0.35"/>
<ellipse cx="0" cy="0" rx="4.80" ry="2.22" fill="rgb(183,183,183)" stroke="rgb(113,113,113)" stroke-width="0.35"/>
<ellipse cx="0" cy="0" rx="3.20" ry="1.48" fill="rgb(154,154,154)" stroke="rgb(84,84,84)" stroke-width="0.35"/>
<ellipse cx="0" cy="0" rx="1.60" ry="0.74" fill="rgb(141,141,141)" stroke="rgb(71,71,71)" stroke-width="0.35"/>
</g>
<g transform="translate(117.80 59.50) rotate(0)" filter="url(#b0)">
<ellipse cx="0" cy="0" rx="3.10" ry="9.60" fill="rgb(200,200,200)" stroke="rgb(130,130,130)" stroke-width="0.35"/>
<ellipse cx="0" cy="0" rx="2.60" ry="8.06" fill="rgb(158,158,158)" stroke="rgb(88,88,88)" stroke-width="0.35"/>
<ellipse cx="0" cy="0" rx="2.11" ry="6.53" fill="rgb(117,117,117)" stroke="rgb(47,47,47)" stroke-width="0.35"/>
<ellipse cx="0" cy="0" rx="1.61" ry="4.99" fill="rgb(75,75,75)" stroke="rgb(5,5,5)" stroke-width="0.35"/>
<ellipse cx="0" cy="0" rx="1.12" ry="3.46" fill="rgb(34,34,34)" stroke="rgb(0,0,0)" stroke-width="0.35"/>
<ellipse cx="0" cy="0" rx="0.62" ry="1.92" fill="rgb(20,20,20)" stroke="rgb(0,0,0)" stroke-width="0.35"/>
</g>
<line x1="109.10" y1="58.10" x2="123.60" y2="58.10" stroke="#4a4a4a" stroke-width="0.6" />
<line x1="123.60" y1="58.10" x2="123.60" y2="71.00" stroke="#4a4a4a" stroke-width="0.5" />
<line x1="112.60" y1="58.10" x2="112.60" y2="71.00" stroke="#4a4a4a" stroke-width="0.4" />
<text font-size="5.60" color="#333" transform="translate(132.40 43.00) scale(1.0 1)" style="stroke-width:0.05px">33.6</text>
<text font-size="5.60" color="#333" transform="translate(113.40 74.40) scale(1.0 1)" style="stroke-width:0.05px">65.9</text>
<text x="21.10" y="72.00" font-size="7.6" textLength="12.2" lengthAdjust="spacingAndGlyphs" transform="rotate(-90 21.10 72.00)" style="stroke-width:0.3px">CD71</text>
<line x1="18.70" y1="55.30" x2="18.70" y2="41.00" stroke="#1c1c1c" stroke-width="0.7" />
<polygon points="18.70,38.20 20.20,41.50 17.20,41.50" fill="#1c1c1c"/>
<text x="36.00" y="82.90" font-size="7.6" textLength="17.8" lengthAdjust="spacingAndGlyphs" style="stroke-width:0.3px">CD235a</text>
<line x1="57.30" y1="80.60" x2="144.00" y2="80.60" stroke="#1c1c1c" stroke-width="0.7" />
<polygon points="146.50,80.60 143.50,82.00 143.50,79.20" fill="#1c1c1c"/>
<line x1="31.00" y1="68.80" x2="23.65" y2="81.61" stroke="#1c1c1c" stroke-width="0.8" />
<polygon points="22.50,83.60 22.59,80.42 25.20,81.92" fill="#1c1c1c"/>
<rect x="23.60" y="85.00" width="38.80" height="37.60" fill="#fff" stroke="#858585" stroke-width="0.9" />
<rect x="26.30" y="87.70" width="33.20" height="32.00" fill="none" stroke="#c2c2c2" stroke-width="0.6" />
<line x1="24.00" y1="95.53" x2="25.80" y2="95.53" stroke="#555" stroke-width="0.5" />
<line x1="34.46" y1="122.20" x2="34.46" y2="120.40" stroke="#555" stroke-width="0.5" />
<line x1="24.00" y1="104.55" x2="25.80" y2="104.55" stroke="#555" stroke-width="0.5" />
<line x1="43.78" y1="122.20" x2="43.78" y2="120.40" stroke="#555" stroke-width="0.5" />
<line x1="24.00" y1="113.58" x2="25.80" y2="113.58" stroke="#555" stroke-width="0.5" />
<line x1="53.09" y1="122.20" x2="53.09" y2="120.40" stroke="#555" stroke-width="0.5" />
<rect x="65.90" y="85.00" width="38.80" height="37.60" fill="#fff" stroke="#858585" stroke-width="0.9" />
<rect x="68.60" y="87.70" width="33.20" height="32.00" fill="none" stroke="#c2c2c2" stroke-width="0.6" />
<line x1="66.30" y1="95.53" x2="68.10" y2="95.53" stroke="#555" stroke-width="0.5" />
<line x1="76.76" y1="122.20" x2="76.76" y2="120.40" stroke="#555" stroke-width="0.5" />
<line x1="66.30" y1="104.55" x2="68.10" y2="104.55" stroke="#555" stroke-width="0.5" />
<line x1="86.08" y1="122.20" x2="86.08" y2="120.40" stroke="#555" stroke-width="0.5" />
<line x1="66.30" y1="113.58" x2="68.10" y2="113.58" stroke="#555" stroke-width="0.5" />
<line x1="95.39" y1="122.20" x2="95.39" y2="120.40" stroke="#555" stroke-width="0.5" />
<rect x="108.70" y="85.00" width="38.60" height="37.60" fill="#fff" stroke="#858585" stroke-width="0.9" />
<rect x="111.40" y="87.70" width="33.00" height="32.00" fill="none" stroke="#c2c2c2" stroke-width="0.6" />
<line x1="109.10" y1="95.53" x2="110.90" y2="95.53" stroke="#555" stroke-width="0.5" />
<line x1="119.51" y1="122.20" x2="119.51" y2="120.40" stroke="#555" stroke-width="0.5" />
<line x1="109.10" y1="104.55" x2="110.90" y2="104.55" stroke="#555" stroke-width="0.5" />
<line x1="128.77" y1="122.20" x2="128.77" y2="120.40" stroke="#555" stroke-width="0.5" />
<line x1="109.10" y1="113.58" x2="110.90" y2="113.58" stroke="#555" stroke-width="0.5" />
<line x1="138.04" y1="122.20" x2="138.04" y2="120.40" stroke="#555" stroke-width="0.5" />
<path d="M28.6 111 C28.6 106 31.6 104.6 32.6 100.5 C33.2 97.6 34.4 96.6 35.4 97 C36.8 97.6 36.2 100.8 36.8 103.8 C37.4 106.4 37.2 108.5 36.8 111" fill="none" stroke="#555" stroke-width="0.4"/>
<g transform="translate(32.50 110.90) rotate(0)" filter="url(#b0)">
<ellipse cx="0" cy="0" rx="4.70" ry="4.90" fill="rgb(225,225,225)" stroke="rgb(155,155,155)" stroke-width="0.35"/>
<ellipse cx="0" cy="0" rx="3.95" ry="4.12" fill="rgb(177,177,177)" stroke="rgb(107,107,107)" stroke-width="0.35"/>
<ellipse cx="0" cy="0" rx="3.20" ry="3.33" fill="rgb(130,130,130)" stroke="rgb(60,60,60)" stroke-width="0.35"/>
<ellipse cx="0" cy="0" rx="2.44" ry="2.55" fill="rgb(83,83,83)" stroke="rgb(13,13,13)" stroke-width="0.35"/>
<ellipse cx="0" cy="0" rx="1.69" ry="1.76" fill="rgb(36,36,36)" stroke="rgb(0,0,0)" stroke-width="0.35"/>
<ellipse cx="0" cy="0" rx="0.94" ry="0.98" fill="rgb(20,20,20)" stroke="rgb(0,0,0)" stroke-width="0.35"/>
</g>
<path d="M47.6 112.5 C46.8 108 49.4 104.5 50.2 101 C50.8 98 52.4 96.4 53.8 97 C55.6 97.8 56.2 100.6 57.8 103.4 C59.8 107 60 111 57.4 113.8 C55 116.4 48.6 116.6 47.6 112.5 Z" fill="#ececec" stroke="#5a5a5a" stroke-width="0.4"/>
<path d="M50 111.8 C49.6 108.8 51.6 106 52.8 103.6 C54 103 56 105.4 56.6 108 C57.2 111 55.4 113.6 53 114 C51.4 114.2 50.2 113.4 50 111.8 Z" fill="#d6d6d6" stroke="#666" stroke-width="0.35"/>
<g transform="translate(54.00 110.00) rotate(-25)">
<ellipse cx="0" cy="0" rx="2.20" ry="2.80" fill="#bdbdbd" stroke="#555" stroke-width="0.35"/>
<ellipse cx="0" cy="0" rx="1.38" ry="1.75" fill="#bdbdbd" stroke="#555" stroke-width="0.35"/>
</g>
<line x1="24.00" y1="104.30" x2="40.70" y2="104.30" stroke="#4a4a4a" stroke-width="0.6" />
<line x1="40.70" y1="104.30" x2="40.70" y2="116.80" stroke="#4a4a4a" stroke-width="0.6" />
<line x1="24.00" y1="116.80" x2="40.70" y2="116.80" stroke="#4a4a4a" stroke-width="0.5" />
<text font-size="5.60" color="#333" transform="translate(47.80 91.20) scale(1.0 1)" style="stroke-width:0.05px">34.8</text>
<text font-size="5.60" color="#333" transform="translate(33.00 120.90) scale(1.0 1)" style="stroke-width:0.05px">65.0</text>
<path d="M69.4 112 C69 106 72.4 103 73.4 98.5 C74 95 76 92.4 77.8 92.8 C79.6 93.4 79.4 97 80.4 101 C81.4 104.6 84.5 106.6 88 106.4 C91 106.2 92.4 103.8 93.4 101.2 C94.2 99 95.6 98 96.6 98.8 C98.4 100.4 100.6 104.6 101.2 108.8 C101.8 113 99.4 115.8 95.6 116 L75 116.4 C71.6 116.4 69.6 114.8 69.4 112 Z" fill="#f7f7f7" stroke="#5d5d5d" stroke-width="0.4"/>
<path d="M71 111.6 C71 107.6 73.6 105 74.6 101.6 C75.2 99.4 76.4 98 77.4 98.6 C78.6 99.4 78.6 102.4 79.8 105 C81.2 107.8 85 108.6 88.6 108.4 C92 108.2 93.6 106 94.6 104 C95.4 102.6 96.4 102.6 97.2 103.8 C98.8 106.2 99.8 109.4 99.2 111.8 C98.6 114 96.8 114.6 94.6 114.6 L75.6 114.9 C72.8 114.9 71 113.8 71 111.6 Z" fill="#e0e0e0" stroke="#666" stroke-width="0.35"/>
<g fill="none" stroke-linecap="round" stroke-linejoin="round" filter="url(#b0u)">
<path d="M75 111.9 L95.4 110.8" stroke="#a0a0a0" stroke-width="6.4"/>
<path d="M75 111.9 L95.4 110.8" stroke="#767676" stroke-width="4.6"/>
<path d="M75 111.9 L95.4 110.8" stroke="#5c5c5c" stroke-width="2.4"/>
</g>
<line x1="79.50" y1="112.20" x2="87.00" y2="111.80" stroke="#d8d8d8" stroke-width="0.7" />
<g transform="translate(74.60 112.00) rotate(0)" filter="url(#b0)">
<ellipse cx="0" cy="0" rx="4.60" ry="4.50" fill="rgb(120,120,120)" stroke="rgb(50,50,50)" stroke-width="0.35"/>
<ellipse cx="0" cy="0" rx="3.68" ry="3.60" fill="rgb(91,91,91)" stroke="rgb(21,21,21)" stroke-width="0.35"/>
<ellipse cx="0" cy="0" rx="2.76" ry="2.70" fill="rgb(62,62,62)" stroke="rgb(0,0,0)" stroke-width="0.35"/>
<ellipse cx="0" cy="0" rx="1.84" ry="1.80" fill="rgb(33,33,33)" stroke="rgb(0,0,0)" stroke-width="0.35"/>
<ellipse cx="0" cy="0" rx="0.92" ry="0.90" fill="rgb(20,20,20)" stroke="rgb(0,0,0)" stroke-width="0.35"/>
</g>
<g transform="translate(96.00 110.60) rotate(0)" filter="url(#b0)">
<ellipse cx="0" cy="0" rx="4.20" ry="4.00" fill="rgb(130,130,130)" stroke="rgb(60,60,60)" stroke-width="0.35"/>
<ellipse cx="0" cy="0" rx="3.36" ry="3.20" fill="rgb(107,107,107)" stroke="rgb(37,37,37)" stroke-width="0.35"/>
<ellipse cx="0" cy="0" rx="2.52" ry="2.40" fill="rgb(84,84,84)" stroke="rgb(14,14,14)" stroke-width="0.35"/>
<ellipse cx="0" cy="0" rx="1.68" ry="1.60" fill="rgb(61,61,61)" stroke="rgb(0,0,0)" stroke-width="0.35"/>
<ellipse cx="0" cy="0" rx="0.84" ry="0.80" fill="rgb(50,50,50)" stroke="rgb(0,0,0)" stroke-width="0.35"/>
</g>
<line x1="66.30" y1="104.30" x2="82.00" y2="104.30" stroke="#4a4a4a" stroke-width="0.6" />
<line x1="82.00" y1="104.30" x2="82.00" y2="116.80" stroke="#4a4a4a" stroke-width="0.6" />
<line x1="66.30" y1="116.80" x2="82.00" y2="116.80" stroke="#4a4a4a" stroke-width="0.5" />
<text font-size="5.60" color="#333" transform="translate(91.60 91.20) scale(1.0 1)" style="stroke-width:0.05px">67.6</text>
<text font-size="5.60" color="#333" transform="translate(75.20 120.90) scale(1.0 1)" style="stroke-width:0.05px">32.9</text>
<g transform="translate(116.90 111.60) rotate(0)" filter="url(#b0)">
<ellipse cx="0" cy="0" rx="3.90" ry="4.70" fill="rgb(225,225,225)" stroke="rgb(155,155,155)" stroke-width="0.35"/>
<ellipse cx="0" cy="0" rx="3.28" ry="3.95" fill="rgb(177,177,177)" stroke="rgb(107,107,107)" stroke-width="0.35"/>
<ellipse cx="0" cy="0" rx="2.65" ry="3.20" fill="rgb(130,130,130)" stroke="rgb(60,60,60)" stroke-width="0.35"/>
<ellipse cx="0" cy="0" rx="2.03" ry="2.44" fill="rgb(83,83,83)" stroke="rgb(13,13,13)" stroke-width="0.35"/>
<ellipse cx="0" cy="0" rx="1.40" ry="1.69" fill="rgb(36,36,36)" stroke="rgb(0,0,0)" stroke-width="0.35"/>
<ellipse cx="0" cy="0" rx="0.78" ry="0.94" fill="rgb(20,20,20)" stroke="rgb(0,0,0)" stroke-width="0.35"/>
</g>
<g transform="translate(136.00 110.80) rotate(-20)">
<ellipse cx="0" cy="0" rx="6.40" ry="2.30" fill="#ececec" stroke="#777" stroke-width="0.35"/>
<ellipse cx="0" cy="0" rx="4.80" ry="1.72" fill="#ececec" stroke="#777" stroke-width="0.35"/>
<ellipse cx="0" cy="0" rx="3.20" ry="1.15" fill="#ececec" stroke="#777" stroke-width="0.35"/>
</g>
<line x1="109.10" y1="104.30" x2="125.20" y2="104.30" stroke="#4a4a4a" stroke-width="0.6" />
<line x1="125.20" y1="104.30" x2="125.20" y2="117.40" stroke="#4a4a4a" stroke-width="0.6" />
<line x1="109.10" y1="117.40" x2="125.20" y2="117.40" stroke="#4a4a4a" stroke-width="0.5" />
<text font-size="5.60" color="#333" transform="translate(133.20 91.20) scale(1.0 1)" style="stroke-width:0.05px">12.3</text>
<text font-size="5.60" color="#333" transform="translate(116.80 121.60) scale(1.0 1)" style="stroke-width:0.05px">80.7</text>
<text x="21.20" y="118.60" font-size="7.6" textLength="11.6" lengthAdjust="spacingAndGlyphs" transform="rotate(-90 21.20 118.60)" style="stroke-width:0.3px">CD14</text>
<line x1="18.70" y1="103.20" x2="18.70" y2="88.90" stroke="#1c1c1c" stroke-width="0.7" />
<polygon points="18.70,86.40 20.10,89.40 17.30,89.40" fill="#1c1c1c"/>
<text x="42.10" y="130.90" font-size="7.6" textLength="12" lengthAdjust="spacingAndGlyphs" style="stroke-width:0.3px">CD15</text>
<line x1="57.30" y1="128.60" x2="144.00" y2="128.60" stroke="#1c1c1c" stroke-width="0.7" />
<polygon points="146.50,128.60 143.50,130.00 143.50,127.20" fill="#1c1c1c"/>
<line x1="30.60" y1="116.60" x2="23.58" y2="129.77" stroke="#1c1c1c" stroke-width="0.8" />
<polygon points="22.50,131.80 22.49,128.62 25.14,130.03" fill="#1c1c1c"/>
<rect x="23.60" y="132.40" width="38.80" height="38.80" fill="#fff" stroke="#858585" stroke-width="0.9" />
<rect x="26.30" y="135.10" width="33.20" height="33.20" fill="none" stroke="#c2c2c2" stroke-width="0.6" />
<line x1="24.00" y1="143.26" x2="25.80" y2="143.26" stroke="#555" stroke-width="0.5" />
<line x1="34.46" y1="170.80" x2="34.46" y2="169.00" stroke="#555" stroke-width="0.5" />
<line x1="24.00" y1="152.58" x2="25.80" y2="152.58" stroke="#555" stroke-width="0.5" />
<line x1="43.78" y1="170.80" x2="43.78" y2="169.00" stroke="#555" stroke-width="0.5" />
<line x1="24.00" y1="161.89" x2="25.80" y2="161.89" stroke="#555" stroke-width="0.5" />
<line x1="53.09" y1="170.80" x2="53.09" y2="169.00" stroke="#555" stroke-width="0.5" />
<rect x="65.90" y="132.40" width="38.80" height="38.80" fill="#fff" stroke="#858585" stroke-width="0.9" />
<rect x="68.60" y="135.10" width="33.20" height="33.20" fill="none" stroke="#c2c2c2" stroke-width="0.6" />
<line x1="66.30" y1="143.26" x2="68.10" y2="143.26" stroke="#555" stroke-width="0.5" />
<line x1="76.76" y1="170.80" x2="76.76" y2="169.00" stroke="#555" stroke-width="0.5" />
<line x1="66.30" y1="152.58" x2="68.10" y2="152.58" stroke="#555" stroke-width="0.5" />
<line x1="86.08" y1="170.80" x2="86.08" y2="169.00" stroke="#555" stroke-width="0.5" />
<line x1="66.30" y1="161.89" x2="68.10" y2="161.89" stroke="#555" stroke-width="0.5" />
<line x1="95.39" y1="170.80" x2="95.39" y2="169.00" stroke="#555" stroke-width="0.5" />
<rect x="108.70" y="132.40" width="38.60" height="38.80" fill="#fff" stroke="#858585" stroke-width="0.9" />
<rect x="111.40" y="135.10" width="33.00" height="33.20" fill="none" stroke="#c2c2c2" stroke-width="0.6" />
<line x1="109.10" y1="143.26" x2="110.90" y2="143.26" stroke="#555" stroke-width="0.5" />
<line x1="119.51" y1="170.80" x2="119.51" y2="169.00" stroke="#555" stroke-width="0.5" />
<line x1="109.10" y1="152.58" x2="110.90" y2="152.58" stroke="#555" stroke-width="0.5" />
<line x1="128.77" y1="170.80" x2="128.77" y2="169.00" stroke="#555" stroke-width="0.5" />
<line x1="109.10" y1="161.89" x2="110.90" y2="161.89" stroke="#555" stroke-width="0.5" />
<line x1="138.04" y1="170.80" x2="138.04" y2="169.00" stroke="#555" stroke-width="0.5" />
<rect x="30.00" y="151.30" width="28.80" height="15.00" fill="none" stroke="#5a5a5a" stroke-width="0.5" />
<line x1="45.00" y1="151.30" x2="36.30" y2="166.30" stroke="#333" stroke-width="0.5" />
<ellipse cx="37.65" cy="160.10" rx="4.50" ry="2.29" fill="#8a8a8a" opacity="0.6" filter="url(#b1)"/>
<g transform="translate(35.40 159.90) rotate(0)" filter="url(#b0)">
<ellipse cx="0" cy="0" rx="3.90" ry="3.70" fill="rgb(225,225,225)" stroke="rgb(155,155,155)" stroke-width="0.35"/>
<ellipse cx="0" cy="0" rx="3.12" ry="2.96" fill="rgb(166,166,166)" stroke="rgb(96,96,96)" stroke-width="0.35"/>
<ellipse cx="0" cy="0" rx="2.34" ry="2.22" fill="rgb(107,107,107)" stroke="rgb(37,37,37)" stroke-width="0.35"/>
<ellipse cx="0" cy="0" rx="1.56" ry="1.48" fill="rgb(48,48,48)" stroke="rgb(0,0,0)" stroke-width="0.35"/>
<ellipse cx="0" cy="0" rx="0.78" ry="0.74" fill="rgb(20,20,20)" stroke="rgb(0,0,0)" stroke-width="0.35"/>
</g>
<text font-size="5.60" color="#333" transform="translate(29.80 150.00) scale(1.0 1)" style="stroke-width:0.05px">95.2</text>
<text font-size="5.60" color="#333" transform="translate(48.40 150.00) scale(1.0 1)" style="stroke-width:0.05px">3.6</text>
<rect x="72.50" y="151.30" width="28.80" height="15.00" fill="none" stroke="#5a5a5a" stroke-width="0.5" />
<line x1="87.50" y1="151.30" x2="78.80" y2="166.30" stroke="#333" stroke-width="0.5" />
<ellipse cx="80.50" cy="159.70" rx="5.00" ry="2.48" fill="#8a8a8a" opacity="0.6" filter="url(#b1)"/>
<g transform="translate(78.00 159.50) rotate(0)" filter="url(#b0)">
<ellipse cx="0" cy="0" rx="4.10" ry="4.00" fill="rgb(225,225,225)" stroke="rgb(155,155,155)" stroke-width="0.35"/>
<ellipse cx="0" cy="0" rx="3.28" ry="3.20" fill="rgb(166,166,166)" stroke="rgb(96,96,96)" stroke-width="0.35"/>
<ellipse cx="0" cy="0" rx="2.46" ry="2.40" fill="rgb(107,107,107)" stroke="rgb(37,37,37)" stroke-width="0.35"/>
<ellipse cx="0" cy="0" rx="1.64" ry="1.60" fill="rgb(48,48,48)" stroke="rgb(0,0,0)" stroke-width="0.35"/>
<ellipse cx="0" cy="0" rx="0.82" ry="0.80" fill="rgb(20,20,20)" stroke="rgb(0,0,0)" stroke-width="0.35"/>
</g>
<text font-size="5.60" color="#333" transform="translate(72.30 150.00) scale(1.0 1)" style="stroke-width:0.05px">91.9</text>
<text font-size="5.60" color="#333" transform="translate(90.60 150.00) scale(1.0 1)" style="stroke-width:0.05px">7.43</text>
<rect x="115.00" y="151.30" width="28.80" height="15.00" fill="none" stroke="#5a5a5a" stroke-width="0.5" />
<line x1="130.00" y1="151.30" x2="121.30" y2="166.30" stroke="#333" stroke-width="0.5" />
<ellipse cx="124.55" cy="160.20" rx="6.50" ry="2.05" fill="#8a8a8a" opacity="0.6" filter="url(#b1)"/>
<g transform="translate(121.30 160.00) rotate(0)" filter="url(#b0)">
<ellipse cx="0" cy="0" rx="4.40" ry="3.30" fill="rgb(225,225,225)" stroke="rgb(155,155,155)" stroke-width="0.35"/>
<ellipse cx="0" cy="0" rx="3.52" ry="2.64" fill="rgb(166,166,166)" stroke="rgb(96,96,96)" stroke-width="0.35"/>
<ellipse cx="0" cy="0" rx="2.64" ry="1.98" fill="rgb(107,107,107)" stroke="rgb(37,37,37)" stroke-width="0.35"/>
<ellipse cx="0" cy="0" rx="1.76" ry="1.32" fill="rgb(48,48,48)" stroke="rgb(0,0,0)" stroke-width="0.35"/>
<ellipse cx="0" cy="0" rx="0.88" ry="0.66" fill="rgb(20,20,20)" stroke="rgb(0,0,0)" stroke-width="0.35"/>
</g>
<text font-size="5.60" color="#333" transform="translate(114.40 150.00) scale(1.0 1)" style="stroke-width:0.05px">84.5</text>
<text font-size="5.60" color="#333" transform="translate(132.40 150.00) scale(1.0 1)" style="stroke-width:0.05px">12.9</text>
<text x="21.20" y="166.20" font-size="7.6" textLength="11.6" lengthAdjust="spacingAndGlyphs" transform="rotate(-90 21.20 166.20)" style="stroke-width:0.3px">CD14</text>
<line x1="18.70" y1="150.80" x2="18.70" y2="136.50" stroke="#1c1c1c" stroke-width="0.7" />
<polygon points="18.70,134.00 20.10,137.00 17.30,137.00" fill="#1c1c1c"/>
<text x="40.20" y="179.40" font-size="7.6" textLength="13.9" lengthAdjust="spacingAndGlyphs" style="stroke-width:0.3px">CD11b</text>
<line x1="57.30" y1="177.10" x2="144.00" y2="177.10" stroke="#1c1c1c" stroke-width="0.7" />
<polygon points="146.50,177.10 143.50,178.50 143.50,175.70" fill="#1c1c1c"/>
<text font-size="7.80" text-anchor="middle" transform="translate(42.80 326.40) scale(1.0 1)">S-A</text>
<text font-size="7.80" text-anchor="middle" transform="translate(85.40 326.40) scale(1.0 1)">S-R</text>
<text font-size="7.80" text-anchor="middle" transform="translate(128.20 326.40) scale(1.0 1)">S-S</text>
<rect x="23.60" y="332.70" width="38.80" height="37.40" fill="#fff" stroke="#858585" stroke-width="0.9" />
<rect x="26.30" y="335.40" width="33.20" height="31.80" fill="none" stroke="#c2c2c2" stroke-width="0.6" />
<line x1="24.00" y1="343.17" x2="25.80" y2="343.17" stroke="#555" stroke-width="0.5" />
<line x1="34.46" y1="369.70" x2="34.46" y2="367.90" stroke="#555" stroke-width="0.5" />
<line x1="24.00" y1="352.15" x2="25.80" y2="352.15" stroke="#555" stroke-width="0.5" />
<line x1="43.78" y1="369.70" x2="43.78" y2="367.90" stroke="#555" stroke-width="0.5" />
<line x1="24.00" y1="361.12" x2="25.80" y2="361.12" stroke="#555" stroke-width="0.5" />
<line x1="53.09" y1="369.70" x2="53.09" y2="367.90" stroke="#555" stroke-width="0.5" />
<rect x="65.90" y="332.70" width="38.80" height="37.40" fill="#fff" stroke="#858585" stroke-width="0.9" />
<rect x="68.60" y="335.40" width="33.20" height="31.80" fill="none" stroke="#c2c2c2" stroke-width="0.6" />
<line x1="66.30" y1="343.17" x2="68.10" y2="343.17" stroke="#555" stroke-width="0.5" />
<line x1="76.76" y1="369.70" x2="76.76" y2="367.90" stroke="#555" stroke-width="0.5" />
<line x1="66.30" y1="352.15" x2="68.10" y2="352.15" stroke="#555" stroke-width="0.5" />
<line x1="86.08" y1="369.70" x2="86.08" y2="367.90" stroke="#555" stroke-width="0.5" />
<line x1="66.30" y1="361.12" x2="68.10" y2="361.12" stroke="#555" stroke-width="0.5" />
<line x1="95.39" y1="369.70" x2="95.39" y2="367.90" stroke="#555" stroke-width="0.5" />
<rect x="108.70" y="332.70" width="38.60" height="37.40" fill="#fff" stroke="#858585" stroke-width="0.9" />
<rect x="111.40" y="335.40" width="33.00" height="31.80" fill="none" stroke="#c2c2c2" stroke-width="0.6" />
<line x1="109.10" y1="343.17" x2="110.90" y2="343.17" stroke="#555" stroke-width="0.5" />
<line x1="119.51" y1="369.70" x2="119.51" y2="367.90" stroke="#555" stroke-width="0.5" />
<line x1="109.10" y1="352.15" x2="110.90" y2="352.15" stroke="#555" stroke-width="0.5" />
<line x1="128.77" y1="369.70" x2="128.77" y2="367.90" stroke="#555" stroke-width="0.5" />
<line x1="109.10" y1="361.12" x2="110.90" y2="361.12" stroke="#555" stroke-width="0.5" />
<line x1="138.04" y1="369.70" x2="138.04" y2="367.90" stroke="#555" stroke-width="0.5" />
<circle cx="40.4" cy="345.1" r="0.33" fill="#444"/>
<circle cx="40.2" cy="343.0" r="0.33" fill="#444"/>
<circle cx="36.6" cy="343.7" r="0.33" fill="#444"/>
<circle cx="47.4" cy="343.9" r="0.33" fill="#444"/>
<circle cx="46.9" cy="343.5" r="0.33" fill="#444"/>
<circle cx="43.6" cy="343.8" r="0.33" fill="#444"/>
<circle cx="33.2" cy="347.0" r="0.33" fill="#444"/>
<circle cx="44.3" cy="344.5" r="0.33" fill="#444"/>
<circle cx="32.2" cy="340.3" r="0.33" fill="#444"/>
<circle cx="36.7" cy="343.0" r="0.33" fill="#444"/>
<circle cx="43.1" cy="343.3" r="0.33" fill="#444"/>
<circle cx="44.0" cy="341.6" r="0.33" fill="#444"/>
<circle cx="43.2" cy="344.4" r="0.33" fill="#444"/>
<circle cx="38.7" cy="348.5" r="0.33" fill="#444"/>
<circle cx="44.8" cy="346.3" r="0.33" fill="#444"/>
<circle cx="38.0" cy="342.1" r="0.33" fill="#444"/>
<circle cx="39.7" cy="343.6" r="0.33" fill="#444"/>
<circle cx="44.8" cy="343.8" r="0.33" fill="#444"/>
<circle cx="38.9" cy="341.5" r="0.33" fill="#444"/>
<circle cx="39.3" cy="347.1" r="0.33" fill="#444"/>
<circle cx="37.4" cy="344.8" r="0.33" fill="#444"/>
<circle cx="43.2" cy="339.5" r="0.33" fill="#444"/>
<circle cx="42.2" cy="346.9" r="0.33" fill="#444"/>
<circle cx="31.0" cy="344.2" r="0.33" fill="#444"/>
<circle cx="40.7" cy="341.6" r="0.33" fill="#444"/>
<circle cx="44.0" cy="343.1" r="0.33" fill="#444"/>
<circle cx="34.3" cy="346.8" r="0.33" fill="#444"/>
<circle cx="45.3" cy="345.6" r="0.33" fill="#444"/>
<circle cx="49.0" cy="343.5" r="0.33" fill="#444"/>
<circle cx="41.6" cy="340.2" r="0.33" fill="#444"/>
<circle cx="44.4" cy="341.6" r="0.33" fill="#444"/>
<circle cx="38.7" cy="340.7" r="0.33" fill="#444"/>
<circle cx="36.3" cy="342.9" r="0.33" fill="#444"/>
<circle cx="47.4" cy="337.4" r="0.33" fill="#444"/>
<circle cx="34.1" cy="345.3" r="0.33" fill="#444"/>
<circle cx="49.1" cy="344.0" r="0.33" fill="#444"/>
<circle cx="30.8" cy="338.5" r="0.33" fill="#444"/>
<circle cx="43.1" cy="341.4" r="0.33" fill="#444"/>
<circle cx="36.1" cy="346.9" r="0.33" fill="#444"/>
<circle cx="47.2" cy="343.2" r="0.33" fill="#444"/>
<circle cx="42.9" cy="344.5" r="0.33" fill="#444"/>
<circle cx="49.9" cy="344.0" r="0.33" fill="#444"/>
<circle cx="44.4" cy="344.6" r="0.33" fill="#444"/>
<circle cx="33.9" cy="348.0" r="0.33" fill="#444"/>
<circle cx="46.6" cy="344.3" r="0.33" fill="#444"/>
<circle cx="31.1" cy="343.4" r="0.33" fill="#444"/>
<circle cx="45.2" cy="338.3" r="0.33" fill="#444"/>
<circle cx="40.9" cy="346.4" r="0.33" fill="#444"/>
<circle cx="35.3" cy="348.7" r="0.33" fill="#444"/>
<circle cx="44.3" cy="342.8" r="0.33" fill="#444"/>
<circle cx="43.4" cy="345.0" r="0.33" fill="#444"/>
<circle cx="42.5" cy="346.5" r="0.33" fill="#444"/>
<circle cx="37.9" cy="343.0" r="0.33" fill="#444"/>
<circle cx="46.9" cy="342.9" r="0.33" fill="#444"/>
<circle cx="37.3" cy="346.7" r="0.33" fill="#444"/>
<circle cx="48.9" cy="341.4" r="0.33" fill="#444"/>
<circle cx="34.3" cy="344.3" r="0.33" fill="#444"/>
<circle cx="40.6" cy="342.9" r="0.33" fill="#444"/>
<circle cx="48.4" cy="339.9" r="0.33" fill="#444"/>
<circle cx="47.5" cy="339.4" r="0.33" fill="#444"/>
<circle cx="37.7" cy="345.8" r="0.33" fill="#444"/>
<circle cx="47.6" cy="345.0" r="0.33" fill="#444"/>
<circle cx="43.3" cy="343.7" r="0.33" fill="#444"/>
<circle cx="42.5" cy="345.0" r="0.33" fill="#444"/>
<circle cx="40.7" cy="344.4" r="0.33" fill="#444"/>
<circle cx="44.4" cy="343.2" r="0.33" fill="#444"/>
<circle cx="45.6" cy="344.5" r="0.33" fill="#444"/>
<circle cx="52.0" cy="343.0" r="0.33" fill="#444"/>
<circle cx="39.2" cy="343.0" r="0.33" fill="#444"/>
<circle cx="41.8" cy="346.0" r="0.33" fill="#444"/>
<circle cx="39.9" cy="344.8" r="0.33" fill="#444"/>
<circle cx="50.0" cy="335.7" r="0.33" fill="#444"/>
<circle cx="35.8" cy="345.0" r="0.33" fill="#444"/>
<circle cx="43.6" cy="343.9" r="0.33" fill="#444"/>
<circle cx="39.5" cy="345.6" r="0.33" fill="#444"/>
<circle cx="42.8" cy="342.1" r="0.33" fill="#444"/>
<circle cx="54.1" cy="342.8" r="0.33" fill="#444"/>
<circle cx="38.6" cy="343.7" r="0.33" fill="#444"/>
<circle cx="40.3" cy="343.6" r="0.33" fill="#444"/>
<circle cx="27.3" cy="344.3" r="0.33" fill="#444"/>
<circle cx="46.3" cy="339.9" r="0.33" fill="#444"/>
<circle cx="41.5" cy="346.1" r="0.33" fill="#444"/>
<circle cx="46.4" cy="346.8" r="0.33" fill="#444"/>
<circle cx="32.6" cy="343.9" r="0.33" fill="#444"/>
<circle cx="40.0" cy="345.5" r="0.33" fill="#444"/>
<circle cx="46.2" cy="335.9" r="0.33" fill="#444"/>
<circle cx="46.6" cy="339.1" r="0.33" fill="#444"/>
<circle cx="44.5" cy="339.3" r="0.33" fill="#444"/>
<circle cx="42.8" cy="346.5" r="0.33" fill="#444"/>
<circle cx="40.8" cy="344.2" r="0.33" fill="#444"/>
<circle cx="37.1" cy="347.7" r="0.33" fill="#444"/>
<circle cx="35.3" cy="350.0" r="0.33" fill="#444"/>
<circle cx="37.6" cy="347.0" r="0.33" fill="#444"/>
<circle cx="41.0" cy="345.7" r="0.33" fill="#444"/>
<circle cx="37.3" cy="347.1" r="0.33" fill="#444"/>
<circle cx="35.8" cy="348.6" r="0.33" fill="#444"/>
<circle cx="35.9" cy="348.5" r="0.33" fill="#444"/>
<circle cx="32.4" cy="345.1" r="0.33" fill="#444"/>
<circle cx="36.7" cy="346.0" r="0.33" fill="#444"/>
<circle cx="33.4" cy="345.1" r="0.33" fill="#444"/>
<circle cx="38.0" cy="348.7" r="0.33" fill="#444"/>
<circle cx="38.4" cy="346.0" r="0.33" fill="#444"/>
<circle cx="35.5" cy="345.7" r="0.33" fill="#444"/>
<circle cx="37.0" cy="350.0" r="0.33" fill="#444"/>
<circle cx="33.7" cy="350.0" r="0.33" fill="#444"/>
<circle cx="37.5" cy="347.2" r="0.33" fill="#444"/>
<circle cx="31.6" cy="349.8" r="0.33" fill="#444"/>
<circle cx="35.3" cy="346.5" r="0.33" fill="#444"/>
<circle cx="36.3" cy="348.2" r="0.33" fill="#444"/>
<circle cx="38.5" cy="345.9" r="0.33" fill="#444"/>
<circle cx="37.8" cy="349.9" r="0.33" fill="#444"/>
<circle cx="38.4" cy="347.2" r="0.33" fill="#444"/>
<circle cx="34.0" cy="349.1" r="0.33" fill="#444"/>
<circle cx="35.7" cy="347.7" r="0.33" fill="#444"/>
<circle cx="38.3" cy="347.1" r="0.33" fill="#444"/>
<circle cx="30.9" cy="346.9" r="0.33" fill="#444"/>
<circle cx="31.8" cy="348.8" r="0.33" fill="#444"/>
<circle cx="36.1" cy="346.5" r="0.33" fill="#444"/>
<circle cx="35.5" cy="348.8" r="0.33" fill="#444"/>
<circle cx="35.7" cy="349.6" r="0.33" fill="#444"/>
<g filter="url(#b0)">
<ellipse cx="34.3" cy="356.6" rx="4.7" ry="8.4" fill="#c9c9c9" stroke="#6a6a6a" stroke-width="0.3"/>
<ellipse cx="34.3" cy="357.40000000000003" rx="4.00" ry="6.89" fill="#9e9e9e" stroke="#666" stroke-width="0.3"/>
</g>
<g transform="translate(34.00 359.20) rotate(0)" filter="url(#b0)">
<ellipse cx="0" cy="0" rx="4.32" ry="5.54" fill="rgb(120,120,120)" stroke="rgb(70,70,70)" stroke-width="0.3"/>
<ellipse cx="0" cy="0" rx="3.72" ry="4.77" fill="rgb(100,100,100)" stroke="rgb(50,50,50)" stroke-width="0.3"/>
<ellipse cx="0" cy="0" rx="3.11" ry="3.99" fill="rgb(40,40,40)" stroke="rgb(0,0,0)" stroke-width="0.3"/>
<ellipse cx="0" cy="0" rx="2.42" ry="3.10" fill="rgb(22,22,22)" stroke="rgb(0,0,0)" stroke-width="0.3"/>
<ellipse cx="0" cy="0" rx="1.73" ry="2.22" fill="rgb(60,60,60)" stroke="rgb(10,10,10)" stroke-width="0.3"/>
<ellipse cx="0" cy="0" rx="0.95" ry="1.22" fill="rgb(125,125,125)" stroke="rgb(75,75,75)" stroke-width="0.3"/>
</g>
<line x1="24.00" y1="355.30" x2="37.00" y2="355.30" stroke="#4a4a4a" stroke-width="0.5" />
<line x1="37.00" y1="355.30" x2="37.00" y2="364.00" stroke="#4a4a4a" stroke-width="0.4" />
<text font-size="5.60" color="#333" transform="translate(49.60 338.20) scale(1.0 1)" style="stroke-width:0.05px">32.2</text>
<text font-size="5.60" color="#333" transform="translate(38.00 368.60) scale(1.0 1)" style="stroke-width:0.05px">67.5</text>
<circle cx="36.4" cy="367.3" r="0.33" fill="#444"/>
<circle cx="38.3" cy="367.8" r="0.33" fill="#444"/>
<circle cx="35.7" cy="367.2" r="0.33" fill="#444"/>
<circle cx="34.2" cy="365.6" r="0.33" fill="#444"/>
<circle cx="34.1" cy="367.4" r="0.33" fill="#444"/>
<circle cx="35.0" cy="366.5" r="0.33" fill="#444"/>
<circle cx="36.3" cy="366.5" r="0.33" fill="#444"/>
<circle cx="35.8" cy="366.7" r="0.33" fill="#444"/>
<circle cx="93.0" cy="346.8" r="0.33" fill="#444"/>
<circle cx="87.1" cy="346.7" r="0.33" fill="#444"/>
<circle cx="84.4" cy="343.3" r="0.33" fill="#444"/>
<circle cx="82.2" cy="345.7" r="0.33" fill="#444"/>
<circle cx="77.7" cy="342.7" r="0.33" fill="#444"/>
<circle cx="89.3" cy="346.9" r="0.33" fill="#444"/>
<circle cx="84.8" cy="346.0" r="0.33" fill="#444"/>
<circle cx="86.0" cy="343.8" r="0.33" fill="#444"/>
<circle cx="78.1" cy="342.8" r="0.33" fill="#444"/>
<circle cx="89.3" cy="345.2" r="0.33" fill="#444"/>
<circle cx="81.1" cy="343.2" r="0.33" fill="#444"/>
<circle cx="78.1" cy="343.4" r="0.33" fill="#444"/>
<circle cx="79.6" cy="344.3" r="0.33" fill="#444"/>
<circle cx="74.3" cy="343.1" r="0.33" fill="#444"/>
<circle cx="82.6" cy="342.1" r="0.33" fill="#444"/>
<circle cx="88.3" cy="345.4" r="0.33" fill="#444"/>
<circle cx="75.2" cy="341.8" r="0.33" fill="#444"/>
<circle cx="86.4" cy="344.7" r="0.33" fill="#444"/>
<circle cx="88.3" cy="346.6" r="0.33" fill="#444"/>
<circle cx="87.9" cy="346.0" r="0.33" fill="#444"/>
<circle cx="90.8" cy="347.1" r="0.33" fill="#444"/>
<circle cx="87.6" cy="343.0" r="0.33" fill="#444"/>
<circle cx="88.7" cy="347.4" r="0.33" fill="#444"/>
<circle cx="83.8" cy="344.2" r="0.33" fill="#444"/>
<circle cx="94.2" cy="344.8" r="0.33" fill="#444"/>
<circle cx="86.5" cy="348.3" r="0.33" fill="#444"/>
<circle cx="80.7" cy="344.9" r="0.33" fill="#444"/>
<circle cx="93.5" cy="346.7" r="0.33" fill="#444"/>
<circle cx="87.3" cy="346.6" r="0.33" fill="#444"/>
<circle cx="80.9" cy="344.0" r="0.33" fill="#444"/>
<circle cx="86.1" cy="346.2" r="0.33" fill="#444"/>
<circle cx="84.9" cy="344.7" r="0.33" fill="#444"/>
<circle cx="80.5" cy="343.6" r="0.33" fill="#444"/>
<circle cx="89.0" cy="346.0" r="0.33" fill="#444"/>
<circle cx="81.4" cy="343.2" r="0.33" fill="#444"/>
<circle cx="96.7" cy="348.9" r="0.33" fill="#444"/>
<circle cx="88.5" cy="342.6" r="0.33" fill="#444"/>
<circle cx="87.7" cy="346.2" r="0.33" fill="#444"/>
<circle cx="92.5" cy="347.1" r="0.33" fill="#444"/>
<circle cx="84.6" cy="345.5" r="0.33" fill="#444"/>
<circle cx="76.3" cy="344.7" r="0.33" fill="#111"/>
<circle cx="79.7" cy="342.8" r="0.33" fill="#111"/>
<circle cx="81.2" cy="345.6" r="0.33" fill="#111"/>
<circle cx="77.1" cy="342.9" r="0.33" fill="#111"/>
<circle cx="79.6" cy="343.8" r="0.33" fill="#111"/>
<circle cx="78.6" cy="342.5" r="0.33" fill="#111"/>
<circle cx="82.4" cy="344.7" r="0.33" fill="#111"/>
<circle cx="77.4" cy="342.1" r="0.33" fill="#111"/>
<circle cx="81.8" cy="344.7" r="0.33" fill="#111"/>
<circle cx="81.9" cy="344.5" r="0.33" fill="#111"/>
<circle cx="77.9" cy="343.9" r="0.33" fill="#111"/>
<circle cx="76.0" cy="342.8" r="0.33" fill="#111"/>
<circle cx="79.1" cy="344.2" r="0.33" fill="#111"/>
<circle cx="78.1" cy="343.5" r="0.33" fill="#111"/>
<circle cx="79.9" cy="344.0" r="0.33" fill="#111"/>
<circle cx="80.2" cy="343.8" r="0.33" fill="#111"/>
<circle cx="78.7" cy="344.5" r="0.33" fill="#111"/>
<circle cx="79.3" cy="342.7" r="0.33" fill="#111"/>
<circle cx="78.3" cy="343.6" r="0.33" fill="#111"/>
<circle cx="79.0" cy="343.8" r="0.33" fill="#111"/>
<circle cx="79.2" cy="343.8" r="0.33" fill="#111"/>
<circle cx="79.0" cy="342.2" r="0.33" fill="#111"/>
<circle cx="79.8" cy="344.8" r="0.33" fill="#111"/>
<circle cx="79.9" cy="343.4" r="0.33" fill="#111"/>
<circle cx="79.9" cy="342.5" r="0.33" fill="#111"/>
<circle cx="76.4" cy="343.7" r="0.33" fill="#111"/>
<circle cx="77.8" cy="344.4" r="0.33" fill="#111"/>
<circle cx="77.6" cy="340.7" r="0.33" fill="#111"/>
<circle cx="77.6" cy="345.3" r="0.33" fill="#111"/>
<circle cx="78.6" cy="342.1" r="0.33" fill="#111"/>
<circle cx="78.1" cy="344.2" r="0.33" fill="#111"/>
<circle cx="79.9" cy="343.8" r="0.33" fill="#111"/>
<circle cx="81.4" cy="344.4" r="0.33" fill="#111"/>
<circle cx="79.2" cy="344.3" r="0.33" fill="#111"/>
<circle cx="81.7" cy="344.7" r="0.33" fill="#111"/>
<circle cx="80.7" cy="342.4" r="0.33" fill="#111"/>
<circle cx="79.0" cy="344.4" r="0.33" fill="#111"/>
<circle cx="78.8" cy="344.8" r="0.33" fill="#111"/>
<circle cx="80.1" cy="344.6" r="0.33" fill="#111"/>
<circle cx="78.9" cy="346.4" r="0.33" fill="#111"/>
<circle cx="78.1" cy="347.3" r="0.33" fill="#444"/>
<circle cx="77.1" cy="351.2" r="0.33" fill="#444"/>
<circle cx="76.7" cy="348.8" r="0.33" fill="#444"/>
<circle cx="77.9" cy="347.6" r="0.33" fill="#444"/>
<circle cx="75.9" cy="347.9" r="0.33" fill="#444"/>
<circle cx="77.3" cy="349.2" r="0.33" fill="#444"/>
<circle cx="77.7" cy="347.6" r="0.33" fill="#444"/>
<circle cx="77.8" cy="348.4" r="0.33" fill="#444"/>
<circle cx="77.2" cy="347.7" r="0.33" fill="#444"/>
<circle cx="76.8" cy="348.6" r="0.33" fill="#444"/>
<circle cx="76.1" cy="346.7" r="0.33" fill="#444"/>
<circle cx="77.0" cy="345.6" r="0.33" fill="#444"/>
<circle cx="76.6" cy="344.8" r="0.33" fill="#444"/>
<circle cx="76.4" cy="348.4" r="0.33" fill="#444"/>
<circle cx="77.5" cy="347.5" r="0.33" fill="#444"/>
<circle cx="76.8" cy="345.6" r="0.33" fill="#444"/>
<g filter="url(#b0)">
<ellipse cx="76.5" cy="356.40000000000003" rx="4.4" ry="8.2" fill="#c9c9c9" stroke="#6a6a6a" stroke-width="0.3"/>
<ellipse cx="76.5" cy="357.20000000000005" rx="3.74" ry="6.72" fill="#9e9e9e" stroke="#666" stroke-width="0.3"/>
</g>
<g transform="translate(76.20 359.00) rotate(0)" filter="url(#b0)">
<ellipse cx="0" cy="0" rx="4.05" ry="5.41" fill="rgb(120,120,120)" stroke="rgb(70,70,70)" stroke-width="0.3"/>
<ellipse cx="0" cy="0" rx="3.48" ry="4.65" fill="rgb(100,100,100)" stroke="rgb(50,50,50)" stroke-width="0.3"/>
<ellipse cx="0" cy="0" rx="2.91" ry="3.90" fill="rgb(40,40,40)" stroke="rgb(0,0,0)" stroke-width="0.3"/>
<ellipse cx="0" cy="0" rx="2.27" ry="3.03" fill="rgb(22,22,22)" stroke="rgb(0,0,0)" stroke-width="0.3"/>
<ellipse cx="0" cy="0" rx="1.62" ry="2.16" fill="rgb(60,60,60)" stroke="rgb(10,10,10)" stroke-width="0.3"/>
<ellipse cx="0" cy="0" rx="0.89" ry="1.19" fill="rgb(125,125,125)" stroke="rgb(75,75,75)" stroke-width="0.3"/>
</g>
<line x1="66.30" y1="355.30" x2="80.00" y2="355.30" stroke="#4a4a4a" stroke-width="0.5" />
<text font-size="5.60" color="#333" transform="translate(92.50 338.20) scale(1.0 1)" style="stroke-width:0.05px">13.4</text>
<text font-size="5.60" color="#333" transform="translate(80.20 368.60) scale(1.0 1)" style="stroke-width:0.05px">86.2</text>
<circle cx="81.2" cy="366.9" r="0.33" fill="#444"/>
<circle cx="80.3" cy="365.8" r="0.33" fill="#444"/>
<circle cx="78.8" cy="365.0" r="0.33" fill="#444"/>
<circle cx="79.9" cy="367.2" r="0.33" fill="#444"/>
<circle cx="76.7" cy="366.5" r="0.33" fill="#444"/>
<circle cx="79.8" cy="365.1" r="0.33" fill="#444"/>
<circle cx="76.8" cy="365.6" r="0.33" fill="#444"/>
<circle cx="78.2" cy="365.4" r="0.33" fill="#444"/>
<circle cx="128.3" cy="346.1" r="0.33" fill="#444"/>
<circle cx="132.3" cy="346.7" r="0.33" fill="#444"/>
<circle cx="138.0" cy="347.3" r="0.33" fill="#444"/>
<circle cx="119.4" cy="345.2" r="0.33" fill="#444"/>
<circle cx="120.9" cy="343.7" r="0.33" fill="#444"/>
<circle cx="127.5" cy="345.6" r="0.33" fill="#444"/>
<circle cx="130.8" cy="341.4" r="0.33" fill="#444"/>
<circle cx="120.0" cy="346.3" r="0.33" fill="#444"/>
<circle cx="126.6" cy="344.9" r="0.33" fill="#444"/>
<circle cx="127.4" cy="343.7" r="0.33" fill="#444"/>
<circle cx="132.6" cy="345.9" r="0.33" fill="#444"/>
<circle cx="127.3" cy="344.0" r="0.33" fill="#444"/>
<circle cx="126.2" cy="339.1" r="0.33" fill="#444"/>
<circle cx="121.7" cy="346.3" r="0.33" fill="#444"/>
<circle cx="118.3" cy="347.0" r="0.33" fill="#444"/>
<circle cx="128.6" cy="342.1" r="0.33" fill="#444"/>
<circle cx="126.3" cy="344.9" r="0.33" fill="#444"/>
<circle cx="131.1" cy="346.6" r="0.33" fill="#444"/>
<circle cx="127.6" cy="343.5" r="0.33" fill="#444"/>
<circle cx="127.1" cy="345.4" r="0.33" fill="#444"/>
<circle cx="132.8" cy="345.7" r="0.33" fill="#444"/>
<circle cx="123.0" cy="342.8" r="0.33" fill="#444"/>
<circle cx="125.4" cy="344.0" r="0.33" fill="#444"/>
<circle cx="120.8" cy="346.0" r="0.33" fill="#444"/>
<circle cx="124.9" cy="346.1" r="0.33" fill="#444"/>
<circle cx="131.3" cy="344.2" r="0.33" fill="#444"/>
<circle cx="142.9" cy="343.2" r="0.33" fill="#444"/>
<circle cx="135.2" cy="345.0" r="0.33" fill="#444"/>
<circle cx="134.6" cy="339.1" r="0.33" fill="#444"/>
<circle cx="123.2" cy="346.6" r="0.33" fill="#444"/>
<circle cx="132.5" cy="350.7" r="0.33" fill="#444"/>
<circle cx="130.4" cy="348.3" r="0.33" fill="#444"/>
<circle cx="133.2" cy="347.2" r="0.33" fill="#444"/>
<circle cx="131.3" cy="344.8" r="0.33" fill="#444"/>
<circle cx="131.0" cy="342.6" r="0.33" fill="#444"/>
<circle cx="135.4" cy="342.3" r="0.33" fill="#444"/>
<circle cx="120.2" cy="350.3" r="0.33" fill="#111"/>
<circle cx="119.8" cy="348.4" r="0.33" fill="#111"/>
<circle cx="120.9" cy="348.4" r="0.33" fill="#111"/>
<circle cx="119.4" cy="348.6" r="0.33" fill="#111"/>
<circle cx="120.5" cy="349.0" r="0.33" fill="#111"/>
<circle cx="119.4" cy="350.0" r="0.33" fill="#111"/>
<circle cx="121.3" cy="348.4" r="0.33" fill="#111"/>
<circle cx="120.2" cy="348.0" r="0.33" fill="#111"/>
<circle cx="121.1" cy="347.8" r="0.33" fill="#111"/>
<circle cx="120.5" cy="348.0" r="0.33" fill="#111"/>
<circle cx="119.4" cy="349.0" r="0.33" fill="#111"/>
<circle cx="121.1" cy="348.4" r="0.33" fill="#111"/>
<circle cx="119.5" cy="349.1" r="0.33" fill="#111"/>
<circle cx="120.0" cy="348.7" r="0.33" fill="#111"/>
<circle cx="121.2" cy="349.4" r="0.33" fill="#111"/>
<circle cx="119.6" cy="350.5" r="0.33" fill="#111"/>
<circle cx="120.0" cy="349.1" r="0.33" fill="#111"/>
<circle cx="119.5" cy="348.4" r="0.33" fill="#111"/>
<circle cx="118.6" cy="350.0" r="0.33" fill="#111"/>
<circle cx="121.1" cy="347.3" r="0.33" fill="#111"/>
<circle cx="118.8" cy="346.9" r="0.33" fill="#111"/>
<circle cx="120.9" cy="348.0" r="0.33" fill="#111"/>
<g filter="url(#b0)">
<ellipse cx="119.6" cy="357.0" rx="4.3" ry="7.6" fill="#c9c9c9" stroke="#6a6a6a" stroke-width="0.3"/>
<ellipse cx="119.6" cy="357.8" rx="3.65" ry="6.23" fill="#9e9e9e" stroke="#666" stroke-width="0.3"/>
</g>
<g transform="translate(119.30 359.60) rotate(0)" filter="url(#b0)">
<ellipse cx="0" cy="0" rx="3.96" ry="5.02" fill="rgb(120,120,120)" stroke="rgb(70,70,70)" stroke-width="0.3"/>
<ellipse cx="0" cy="0" rx="3.40" ry="4.31" fill="rgb(100,100,100)" stroke="rgb(50,50,50)" stroke-width="0.3"/>
<ellipse cx="0" cy="0" rx="2.85" ry="3.61" fill="rgb(40,40,40)" stroke="rgb(0,0,0)" stroke-width="0.3"/>
<ellipse cx="0" cy="0" rx="2.22" ry="2.81" fill="rgb(22,22,22)" stroke="rgb(0,0,0)" stroke-width="0.3"/>
<ellipse cx="0" cy="0" rx="1.58" ry="2.01" fill="rgb(60,60,60)" stroke="rgb(10,10,10)" stroke-width="0.3"/>
<ellipse cx="0" cy="0" rx="0.87" ry="1.10" fill="rgb(125,125,125)" stroke="rgb(75,75,75)" stroke-width="0.3"/>
</g>
<line x1="109.10" y1="355.30" x2="122.60" y2="355.30" stroke="#4a4a4a" stroke-width="0.5" />
<text font-size="5.60" color="#333" transform="translate(135.80 338.20) scale(1.0 1)" style="stroke-width:0.05px">13.5</text>
<text font-size="5.60" color="#333" transform="translate(122.60 368.60) scale(1.0 1)" style="stroke-width:0.05px">86.3</text>
<circle cx="121.4" cy="366.2" r="0.33" fill="#444"/>
<circle cx="121.4" cy="365.6" r="0.33" fill="#444"/>
<circle cx="121.5" cy="365.3" r="0.33" fill="#444"/>
<circle cx="121.4" cy="366.7" r="0.33" fill="#444"/>
<circle cx="122.1" cy="366.3" r="0.33" fill="#444"/>
<circle cx="120.4" cy="366.6" r="0.33" fill="#444"/>
<circle cx="120.9" cy="367.8" r="0.33" fill="#444"/>
<circle cx="122.4" cy="366.4" r="0.33" fill="#444"/>
<text x="21.20" y="366.50" font-size="7.6" textLength="11.6" lengthAdjust="spacingAndGlyphs" transform="rotate(-90 21.20 366.50)" style="stroke-width:0.3px">CD71</text>
<line x1="18.70" y1="351.00" x2="18.70" y2="336.70" stroke="#1c1c1c" stroke-width="0.7" />
<polygon points="18.70,334.20 20.10,337.20 17.30,337.20" fill="#1c1c1c"/>
<text x="35.20" y="378.10" font-size="7.6" textLength="18.4" lengthAdjust="spacingAndGlyphs" style="stroke-width:0.3px">CD235a</text>
<line x1="57.30" y1="375.90" x2="144.00" y2="375.90" stroke="#1c1c1c" stroke-width="0.7" />
<polygon points="146.50,375.90 143.50,377.30 143.50,374.50" fill="#1c1c1c"/>
<line x1="29.20" y1="363.50" x2="22.27" y2="376.76" stroke="#1c1c1c" stroke-width="0.8" />
<polygon points="21.20,378.80 21.17,375.62 23.83,377.01" fill="#1c1c1c"/>
<rect x="23.60" y="380.70" width="38.80" height="36.80" fill="#fff" stroke="#858585" stroke-width="0.9" />
<rect x="26.30" y="383.40" width="33.20" height="31.20" fill="none" stroke="#c2c2c2" stroke-width="0.6" />
<line x1="24.00" y1="391.00" x2="25.80" y2="391.00" stroke="#555" stroke-width="0.5" />
<line x1="34.46" y1="417.10" x2="34.46" y2="415.30" stroke="#555" stroke-width="0.5" />
<line x1="24.00" y1="399.84" x2="25.80" y2="399.84" stroke="#555" stroke-width="0.5" />
<line x1="43.78" y1="417.10" x2="43.78" y2="415.30" stroke="#555" stroke-width="0.5" />
<line x1="24.00" y1="408.67" x2="25.80" y2="408.67" stroke="#555" stroke-width="0.5" />
<line x1="53.09" y1="417.10" x2="53.09" y2="415.30" stroke="#555" stroke-width="0.5" />
<rect x="65.90" y="380.70" width="38.80" height="36.80" fill="#fff" stroke="#858585" stroke-width="0.9" />
<rect x="68.60" y="383.40" width="33.20" height="31.20" fill="none" stroke="#c2c2c2" stroke-width="0.6" />
<line x1="66.30" y1="391.00" x2="68.10" y2="391.00" stroke="#555" stroke-width="0.5" />
<line x1="76.76" y1="417.10" x2="76.76" y2="415.30" stroke="#555" stroke-width="0.5" />
<line x1="66.30" y1="399.84" x2="68.10" y2="399.84" stroke="#555" stroke-width="0.5" />
<line x1="86.08" y1="417.10" x2="86.08" y2="415.30" stroke="#555" stroke-width="0.5" />
<line x1="66.30" y1="408.67" x2="68.10" y2="408.67" stroke="#555" stroke-width="0.5" />
<line x1="95.39" y1="417.10" x2="95.39" y2="415.30" stroke="#555" stroke-width="0.5" />
<rect x="108.70" y="380.70" width="38.60" height="36.80" fill="#fff" stroke="#858585" stroke-width="0.9" />
<rect x="111.40" y="383.40" width="33.00" height="31.20" fill="none" stroke="#c2c2c2" stroke-width="0.6" />
<line x1="109.10" y1="391.00" x2="110.90" y2="391.00" stroke="#555" stroke-width="0.5" />
<line x1="119.51" y1="417.10" x2="119.51" y2="415.30" stroke="#555" stroke-width="0.5" />
<line x1="109.10" y1="399.84" x2="110.90" y2="399.84" stroke="#555" stroke-width="0.5" />
<line x1="128.77" y1="417.10" x2="128.77" y2="415.30" stroke="#555" stroke-width="0.5" />
<line x1="109.10" y1="408.67" x2="110.90" y2="408.67" stroke="#555" stroke-width="0.5" />
<line x1="138.04" y1="417.10" x2="138.04" y2="415.30" stroke="#555" stroke-width="0.5" />
<g filter="url(#b0u)">
<path d="M26.8 385.6 C29 382 39 382.2 42.6 384.2 C45.6 386 45 390.4 47 392.4 C50.6 393.4 55.6 395.2 58 399.6 C60.4 404 58.8 410.6 53.6 412 C49.4 413 44.6 411.8 42.4 408.6 C41 410.6 38 411.8 33.6 411.6 C29 411.4 26.4 408.4 26.4 404.4 C26.4 401 28 398.6 30 397.4 C28 395.4 25.6 388.6 26.8 385.6 Z" fill="#d4d4d4" stroke="#6a6a6a" stroke-width="0.4"/>
<path d="M29.4 386.4 C31.4 384.2 37.4 384.4 39.8 386 C42 387.6 41.6 391.6 43.6 394 C46.4 396.4 52.6 397.4 55 401 C57 404.4 55.6 408.8 52.4 409.8 C49.4 410.6 46 409.4 44.8 406.6 C44 404.2 44.4 400.6 42 398.2 C39 395.6 33.6 394.8 31 392.4 C29 390.4 28.4 387.8 29.4 386.4 Z" fill="#adadad" stroke="#555" stroke-width="0.3"/>
<ellipse cx="35.6" cy="388.2" rx="8" ry="5" fill="#6e6e6e" stroke="#444" stroke-width="0.3"/><ellipse cx="35.6" cy="388.2" rx="6.2" ry="3.6" fill="#3e3e3e"/><ellipse cx="36" cy="388.4" rx="3" ry="1.6" fill="#777"/>
</g>
<g transform="translate(32.80 404.40) rotate(0)" filter="url(#b0)">
<ellipse cx="0" cy="0" rx="5.80" ry="6.00" fill="rgb(120,120,120)" stroke="rgb(70,70,70)" stroke-width="0.3"/>
<ellipse cx="0" cy="0" rx="4.99" ry="5.16" fill="rgb(100,100,100)" stroke="rgb(50,50,50)" stroke-width="0.3"/>
<ellipse cx="0" cy="0" rx="4.18" ry="4.32" fill="rgb(40,40,40)" stroke="rgb(0,0,0)" stroke-width="0.3"/>
<ellipse cx="0" cy="0" rx="3.25" ry="3.36" fill="rgb(22,22,22)" stroke="rgb(0,0,0)" stroke-width="0.3"/>
<ellipse cx="0" cy="0" rx="2.32" ry="2.40" fill="rgb(60,60,60)" stroke="rgb(10,10,10)" stroke-width="0.3"/>
<ellipse cx="0" cy="0" rx="1.16" ry="1.20" fill="rgb(125,125,125)" stroke="rgb(75,75,75)" stroke-width="0.3"/>
</g>
<g transform="translate(50.00 405.40) rotate(0)" filter="url(#b0)">
<ellipse cx="0" cy="0" rx="7.60" ry="5.80" fill="rgb(130,130,130)" stroke="rgb(80,80,80)" stroke-width="0.3"/>
<ellipse cx="0" cy="0" rx="6.54" ry="4.99" fill="rgb(100,100,100)" stroke="rgb(50,50,50)" stroke-width="0.3"/>
<ellipse cx="0" cy="0" rx="5.47" ry="4.18" fill="rgb(40,40,40)" stroke="rgb(0,0,0)" stroke-width="0.3"/>
<ellipse cx="0" cy="0" rx="4.26" ry="3.25" fill="rgb(22,22,22)" stroke="rgb(0,0,0)" stroke-width="0.3"/>
<ellipse cx="0" cy="0" rx="3.04" ry="2.32" fill="rgb(60,60,60)" stroke="rgb(10,10,10)" stroke-width="0.3"/>
<ellipse cx="0" cy="0" rx="0.08" ry="0.06" fill="rgb(125,125,125)" stroke="rgb(75,75,75)" stroke-width="0.3"/>
</g>
<circle cx="52.6" cy="406" r="1.6" fill="#fff" filter="url(#b0)"/>
<line x1="24.00" y1="400.50" x2="61.60" y2="400.50" stroke="#777" stroke-width="0.45" />
<line x1="39.00" y1="381.20" x2="39.00" y2="416.80" stroke="#777" stroke-width="0.45" />
<text font-size="5.60" color="#333" transform="translate(50.40 386.00) scale(1.0 1)" style="stroke-width:0.05px">76.0</text>
<text font-size="5.60" color="#333" transform="translate(40.60 414.40) scale(1.0 1)" style="stroke-width:0.05px">23.3</text>
<g filter="url(#b0u)">
<path d="M69.4 386.2 C71.4 382.6 82 382.4 86.4 384.4 C90.4 386.4 92.4 389.4 95.4 392 C98.6 394.8 101.6 398.6 101.8 403.6 C102 408.8 99 412 94.6 412.2 L75 412.4 C71 412.4 68.6 409.6 68.8 405.6 C69 402.4 71.4 400.6 73.6 399.4 C72 396.4 68.4 390.4 69.4 386.2 Z" fill="#c0c0c0" stroke="#6a6a6a" stroke-width="0.4"/>
<path d="M71.4 386.8 C73.4 384.4 81.4 384.4 85 386 C88.6 387.8 90.4 390.8 93.4 393.6 C96.4 396.4 99.4 399.8 99.6 403.8 C99.8 407.6 97.6 410 94.4 410.2 L75.4 410.4 C72.4 410.4 70.8 408.4 71 405.6 C71.2 403 73.6 401.6 76.4 400.6 C74.4 396.8 70.4 390.4 71.4 386.8 Z" fill="#8c8c8c" stroke="#555" stroke-width="0.3"/>
<ellipse cx="77.4" cy="388.4" rx="6" ry="3.2" transform="rotate(12 77.4 388.4)" fill="#585858"/>
<path d="M75 405.8 L95 405.8" stroke="#4a4a4a" stroke-width="6" stroke-linecap="round"/>
<ellipse cx="84.6" cy="397.4" rx="3.4" ry="2.8" transform="rotate(30 84.6 397.4)" fill="#fff"/>
</g>
<g transform="translate(74.60 405.40) rotate(0)" filter="url(#b0)">
<ellipse cx="0" cy="0" rx="5.80" ry="5.80" fill="rgb(90,90,90)" stroke="rgb(40,40,40)" stroke-width="0.3"/>
<ellipse cx="0" cy="0" rx="4.99" ry="4.99" fill="rgb(100,100,100)" stroke="rgb(50,50,50)" stroke-width="0.3"/>
<ellipse cx="0" cy="0" rx="4.18" ry="4.18" fill="rgb(40,40,40)" stroke="rgb(0,0,0)" stroke-width="0.3"/>
<ellipse cx="0" cy="0" rx="3.25" ry="3.25" fill="rgb(22,22,22)" stroke="rgb(0,0,0)" stroke-width="0.3"/>
<ellipse cx="0" cy="0" rx="2.32" ry="2.32" fill="rgb(60,60,60)" stroke="rgb(10,10,10)" stroke-width="0.3"/>
<ellipse cx="0" cy="0" rx="1.16" ry="1.16" fill="rgb(125,125,125)" stroke="rgb(75,75,75)" stroke-width="0.3"/>
</g>
<g transform="translate(95.00 405.40) rotate(0)" filter="url(#b0)">
<ellipse cx="0" cy="0" rx="5.40" ry="5.40" fill="rgb(90,90,90)" stroke="rgb(40,40,40)" stroke-width="0.3"/>
<ellipse cx="0" cy="0" rx="4.64" ry="4.64" fill="rgb(100,100,100)" stroke="rgb(50,50,50)" stroke-width="0.3"/>
<ellipse cx="0" cy="0" rx="3.89" ry="3.89" fill="rgb(40,40,40)" stroke="rgb(0,0,0)" stroke-width="0.3"/>
<ellipse cx="0" cy="0" rx="3.02" ry="3.02" fill="rgb(22,22,22)" stroke="rgb(0,0,0)" stroke-width="0.3"/>
<ellipse cx="0" cy="0" rx="2.16" ry="2.16" fill="rgb(60,60,60)" stroke="rgb(10,10,10)" stroke-width="0.3"/>
<ellipse cx="0" cy="0" rx="1.08" ry="1.08" fill="rgb(125,125,125)" stroke="rgb(75,75,75)" stroke-width="0.3"/>
</g>
<ellipse cx="84.8" cy="405.8" rx="3" ry="1.1" fill="#ddd" filter="url(#b0)"/>
<line x1="66.30" y1="400.50" x2="104.30" y2="400.50" stroke="#777" stroke-width="0.45" />
<line x1="81.40" y1="381.20" x2="81.40" y2="416.80" stroke="#777" stroke-width="0.45" />
<text font-size="5.60" color="#333" transform="translate(92.50 386.00) scale(1.0 1)" style="stroke-width:0.05px">79.7</text>
<text font-size="5.60" color="#333" transform="translate(81.00 414.40) scale(1.0 1)" style="stroke-width:0.05px">19.9</text>
<circle cx="117.9" cy="386.5" r="0.33" fill="#666"/>
<circle cx="115.8" cy="387.8" r="0.33" fill="#666"/>
<circle cx="121.3" cy="390.8" r="0.33" fill="#666"/>
<circle cx="122.6" cy="396.3" r="0.33" fill="#666"/>
<circle cx="116.8" cy="389.0" r="0.33" fill="#666"/>
<circle cx="132.6" cy="382.5" r="0.33" fill="#666"/>
<circle cx="117.7" cy="389.6" r="0.33" fill="#666"/>
<circle cx="120.7" cy="390.4" r="0.33" fill="#666"/>
<circle cx="118.9" cy="390.3" r="0.33" fill="#666"/>
<circle cx="120.2" cy="391.7" r="0.33" fill="#666"/>
<circle cx="111.5" cy="385.9" r="0.33" fill="#666"/>
<circle cx="120.0" cy="385.4" r="0.33" fill="#666"/>
<circle cx="115.3" cy="391.2" r="0.33" fill="#666"/>
<circle cx="117.1" cy="391.2" r="0.33" fill="#666"/>
<circle cx="123.4" cy="390.1" r="0.33" fill="#666"/>
<circle cx="122.3" cy="388.6" r="0.33" fill="#666"/>
<circle cx="113.7" cy="388.9" r="0.33" fill="#666"/>
<circle cx="122.0" cy="387.1" r="0.33" fill="#666"/>
<circle cx="119.6" cy="391.6" r="0.33" fill="#666"/>
<circle cx="116.0" cy="391.2" r="0.33" fill="#666"/>
<circle cx="128.4" cy="387.1" r="0.33" fill="#666"/>
<circle cx="120.7" cy="388.5" r="0.33" fill="#666"/>
<circle cx="126.9" cy="390.1" r="0.33" fill="#666"/>
<circle cx="124.0" cy="386.6" r="0.33" fill="#666"/>
<circle cx="119.9" cy="389.0" r="0.33" fill="#666"/>
<circle cx="112.0" cy="394.0" r="0.33" fill="#666"/>
<circle cx="124.0" cy="382.9" r="0.33" fill="#666"/>
<circle cx="123.3" cy="388.5" r="0.33" fill="#666"/>
<circle cx="122.0" cy="390.3" r="0.33" fill="#666"/>
<circle cx="113.3" cy="388.3" r="0.33" fill="#666"/>
<circle cx="126.7" cy="387.0" r="0.33" fill="#666"/>
<circle cx="115.4" cy="384.2" r="0.33" fill="#666"/>
<circle cx="114.5" cy="390.2" r="0.33" fill="#666"/>
<circle cx="127.6" cy="390.5" r="0.33" fill="#666"/>
<circle cx="121.1" cy="396.8" r="0.33" fill="#666"/>
<circle cx="117.7" cy="386.6" r="0.33" fill="#666"/>
<circle cx="122.4" cy="390.9" r="0.33" fill="#666"/>
<circle cx="115.4" cy="384.9" r="0.33" fill="#666"/>
<circle cx="121.3" cy="389.9" r="0.33" fill="#666"/>
<circle cx="114.1" cy="388.3" r="0.33" fill="#666"/>
<g transform="translate(120.60 388.40) rotate(-20)">
<ellipse cx="0" cy="0" rx="3.60" ry="2.40" fill="none" stroke="#888" stroke-width="0.35"/>
<ellipse cx="0" cy="0" rx="2.25" ry="1.50" fill="none" stroke="#888" stroke-width="0.35"/>
</g>
<g transform="translate(118.60 396.40) rotate(0)">
<ellipse cx="0" cy="0" rx="2.20" ry="2.60" fill="none" stroke="#888" stroke-width="0.35"/>
<ellipse cx="0" cy="0" rx="1.38" ry="1.62" fill="none" stroke="#888" stroke-width="0.35"/>
</g>
<circle cx="130.7" cy="398.2" r="0.33" fill="#666"/>
<circle cx="133.3" cy="396.8" r="0.33" fill="#666"/>
<circle cx="131.9" cy="399.6" r="0.33" fill="#666"/>
<circle cx="142.3" cy="396.1" r="0.33" fill="#666"/>
<circle cx="139.1" cy="395.1" r="0.33" fill="#666"/>
<circle cx="134.4" cy="398.9" r="0.33" fill="#666"/>
<circle cx="143.1" cy="396.0" r="0.33" fill="#666"/>
<circle cx="133.6" cy="397.5" r="0.33" fill="#666"/>
<circle cx="125.0" cy="397.0" r="0.33" fill="#666"/>
<circle cx="129.9" cy="397.9" r="0.33" fill="#666"/>
<circle cx="127.2" cy="392.1" r="0.33" fill="#666"/>
<circle cx="134.2" cy="397.7" r="0.33" fill="#666"/>
<circle cx="130.7" cy="399.2" r="0.33" fill="#666"/>
<circle cx="132.4" cy="395.5" r="0.33" fill="#666"/>
<circle cx="136.9" cy="393.1" r="0.33" fill="#666"/>
<circle cx="129.9" cy="396.9" r="0.33" fill="#666"/>
<circle cx="139.1" cy="396.6" r="0.33" fill="#666"/>
<circle cx="135.9" cy="395.4" r="0.33" fill="#666"/>
<circle cx="135.8" cy="401.2" r="0.33" fill="#666"/>
<circle cx="129.9" cy="402.9" r="0.33" fill="#666"/>
<circle cx="130.1" cy="397.0" r="0.33" fill="#666"/>
<circle cx="135.0" cy="399.6" r="0.33" fill="#666"/>
<circle cx="126.6" cy="391.7" r="0.33" fill="#666"/>
<circle cx="137.6" cy="399.0" r="0.33" fill="#666"/>
<circle cx="137.7" cy="403.6" r="0.33" fill="#666"/>
<circle cx="135.2" cy="397.6" r="0.33" fill="#666"/>
<circle cx="139.6" cy="397.9" r="0.33" fill="#666"/>
<circle cx="144.0" cy="393.9" r="0.33" fill="#666"/>
<g transform="translate(134.00 405.20) rotate(0)">
<ellipse cx="0" cy="0" rx="8.60" ry="5.60" fill="#d2d2d2" stroke="#666" stroke-width="0.35"/>
<ellipse cx="0" cy="0" rx="6.45" ry="4.20" fill="#d2d2d2" stroke="#666" stroke-width="0.35"/>
<ellipse cx="0" cy="0" rx="4.30" ry="2.80" fill="#d2d2d2" stroke="#666" stroke-width="0.35"/>
</g>
<g transform="translate(135.40 405.40) rotate(0)">
<ellipse cx="0" cy="0" rx="3.80" ry="2.60" fill="#b4b4b4" stroke="#666" stroke-width="0.35"/>
<ellipse cx="0" cy="0" rx="2.38" ry="1.62" fill="#b4b4b4" stroke="#666" stroke-width="0.35"/>
</g>
<g transform="translate(117.80 404.60) rotate(0)" filter="url(#b0)">
<ellipse cx="0" cy="0" rx="6.80" ry="6.40" fill="rgb(150,150,150)" stroke="rgb(100,100,100)" stroke-width="0.3"/>
<ellipse cx="0" cy="0" rx="5.85" ry="5.50" fill="rgb(100,100,100)" stroke="rgb(50,50,50)" stroke-width="0.3"/>
<ellipse cx="0" cy="0" rx="4.90" ry="4.61" fill="rgb(40,40,40)" stroke="rgb(0,0,0)" stroke-width="0.3"/>
<ellipse cx="0" cy="0" rx="3.81" ry="3.58" fill="rgb(22,22,22)" stroke="rgb(0,0,0)" stroke-width="0.3"/>
<ellipse cx="0" cy="0" rx="2.72" ry="2.56" fill="rgb(60,60,60)" stroke="rgb(10,10,10)" stroke-width="0.3"/>
<ellipse cx="0" cy="0" rx="1.09" ry="1.02" fill="rgb(125,125,125)" stroke="rgb(75,75,75)" stroke-width="0.3"/>
</g>
<line x1="109.10" y1="400.50" x2="146.90" y2="400.50" stroke="#777" stroke-width="0.45" />
<line x1="124.40" y1="381.20" x2="124.40" y2="416.80" stroke="#777" stroke-width="0.45" />
<text font-size="5.60" color="#333" transform="translate(135.00 386.00) scale(1.0 1)" style="stroke-width:0.05px">32.2</text>
<text font-size="5.60" color="#333" transform="translate(126.00 414.40) scale(1.0 1)" style="stroke-width:0.05px">67.2</text>
<text x="21.20" y="414.20" font-size="7.6" textLength="11.6" lengthAdjust="spacingAndGlyphs" transform="rotate(-90 21.20 414.20)" style="stroke-width:0.3px">CD14</text>
<line x1="18.70" y1="398.80" x2="18.70" y2="384.70" stroke="#1c1c1c" stroke-width="0.7" />
<polygon points="18.70,382.20 20.10,385.20 17.30,385.20" fill="#1c1c1c"/>
<text x="42.10" y="425.30" font-size="7.6" textLength="12" lengthAdjust="spacingAndGlyphs" style="stroke-width:0.3px">CD15</text>
<line x1="57.30" y1="423.20" x2="144.00" y2="423.20" stroke="#1c1c1c" stroke-width="0.7" />
<polygon points="146.50,423.20 143.50,424.60 143.50,421.80" fill="#1c1c1c"/>
<line x1="29.20" y1="411.40" x2="23.54" y2="424.10" stroke="#1c1c1c" stroke-width="0.8" />
<polygon points="22.60,426.20 22.37,423.03 25.11,424.25" fill="#1c1c1c"/>
<rect x="23.60" y="427.60" width="38.80" height="37.40" fill="#fff" stroke="#858585" stroke-width="0.9" />
<rect x="26.30" y="430.30" width="33.20" height="31.80" fill="none" stroke="#c2c2c2" stroke-width="0.6" />
<line x1="24.00" y1="438.07" x2="25.80" y2="438.07" stroke="#555" stroke-width="0.5" />
<line x1="34.46" y1="464.60" x2="34.46" y2="462.80" stroke="#555" stroke-width="0.5" />
<line x1="24.00" y1="447.05" x2="25.80" y2="447.05" stroke="#555" stroke-width="0.5" />
<line x1="43.78" y1="464.60" x2="43.78" y2="462.80" stroke="#555" stroke-width="0.5" />
<line x1="24.00" y1="456.02" x2="25.80" y2="456.02" stroke="#555" stroke-width="0.5" />
<line x1="53.09" y1="464.60" x2="53.09" y2="462.80" stroke="#555" stroke-width="0.5" />
<rect x="65.90" y="427.60" width="38.80" height="37.40" fill="#fff" stroke="#858585" stroke-width="0.9" />
<rect x="68.60" y="430.30" width="33.20" height="31.80" fill="none" stroke="#c2c2c2" stroke-width="0.6" />
<line x1="66.30" y1="438.07" x2="68.10" y2="438.07" stroke="#555" stroke-width="0.5" />
<line x1="76.76" y1="464.60" x2="76.76" y2="462.80" stroke="#555" stroke-width="0.5" />
<line x1="66.30" y1="447.05" x2="68.10" y2="447.05" stroke="#555" stroke-width="0.5" />
<line x1="86.08" y1="464.60" x2="86.08" y2="462.80" stroke="#555" stroke-width="0.5" />
<line x1="66.30" y1="456.02" x2="68.10" y2="456.02" stroke="#555" stroke-width="0.5" />
<line x1="95.39" y1="464.60" x2="95.39" y2="462.80" stroke="#555" stroke-width="0.5" />
<rect x="108.70" y="427.60" width="38.60" height="37.40" fill="#fff" stroke="#858585" stroke-width="0.9" />
<rect x="111.40" y="430.30" width="33.00" height="31.80" fill="none" stroke="#c2c2c2" stroke-width="0.6" />
<line x1="109.10" y1="438.07" x2="110.90" y2="438.07" stroke="#555" stroke-width="0.5" />
<line x1="119.51" y1="464.60" x2="119.51" y2="462.80" stroke="#555" stroke-width="0.5" />
<line x1="109.10" y1="447.05" x2="110.90" y2="447.05" stroke="#555" stroke-width="0.5" />
<line x1="128.77" y1="464.60" x2="128.77" y2="462.80" stroke="#555" stroke-width="0.5" />
<line x1="109.10" y1="456.02" x2="110.90" y2="456.02" stroke="#555" stroke-width="0.5" />
<line x1="138.04" y1="464.60" x2="138.04" y2="462.80" stroke="#555" stroke-width="0.5" />
<rect x="29.50" y="446.50" width="28.00" height="13.80" fill="none" stroke="#5a5a5a" stroke-width="0.5" />
<line x1="39.50" y1="446.50" x2="39.50" y2="460.30" stroke="#444" stroke-width="0.5" />
<ellipse cx="38.20" cy="452.40" rx="8.00" ry="3.06" fill="#bbb" stroke="#777" stroke-width="0.3"/>
<g transform="translate(33.80 452.60) rotate(0)" filter="url(#b0)">
<ellipse cx="0" cy="0" rx="4.60" ry="5.10" fill="rgb(170,170,170)" stroke="rgb(120,120,120)" stroke-width="0.3"/>
<ellipse cx="0" cy="0" rx="3.96" ry="4.39" fill="rgb(100,100,100)" stroke="rgb(50,50,50)" stroke-width="0.3"/>
<ellipse cx="0" cy="0" rx="3.31" ry="3.67" fill="rgb(40,40,40)" stroke="rgb(0,0,0)" stroke-width="0.3"/>
<ellipse cx="0" cy="0" rx="2.58" ry="2.86" fill="rgb(22,22,22)" stroke="rgb(0,0,0)" stroke-width="0.3"/>
<ellipse cx="0" cy="0" rx="1.84" ry="2.04" fill="rgb(60,60,60)" stroke="rgb(10,10,10)" stroke-width="0.3"/>
<ellipse cx="0" cy="0" rx="1.01" ry="1.12" fill="rgb(125,125,125)" stroke="rgb(75,75,75)" stroke-width="0.3"/>
</g>
<text font-size="5.60" color="#333" transform="translate(29.40 444.60) scale(1.0 1)" style="stroke-width:0.05px">75.3</text>
<text font-size="5.60" color="#333" transform="translate(49.30 444.60) scale(1.0 1)" style="stroke-width:0.05px">24.4</text>
<rect x="72.50" y="446.50" width="27.50" height="13.80" fill="none" stroke="#5a5a5a" stroke-width="0.5" />
<line x1="82.50" y1="446.50" x2="82.50" y2="460.30" stroke="#444" stroke-width="0.5" />
<ellipse cx="80.97" cy="452.40" rx="5.40" ry="2.76" fill="#bbb" stroke="#777" stroke-width="0.3"/>
<g transform="translate(78.00 452.60) rotate(0)" filter="url(#b0)">
<ellipse cx="0" cy="0" rx="4.00" ry="4.60" fill="rgb(170,170,170)" stroke="rgb(120,120,120)" stroke-width="0.3"/>
<ellipse cx="0" cy="0" rx="3.44" ry="3.96" fill="rgb(100,100,100)" stroke="rgb(50,50,50)" stroke-width="0.3"/>
<ellipse cx="0" cy="0" rx="2.88" ry="3.31" fill="rgb(40,40,40)" stroke="rgb(0,0,0)" stroke-width="0.3"/>
<ellipse cx="0" cy="0" rx="2.24" ry="2.58" fill="rgb(22,22,22)" stroke="rgb(0,0,0)" stroke-width="0.3"/>
<ellipse cx="0" cy="0" rx="1.60" ry="1.84" fill="rgb(60,60,60)" stroke="rgb(10,10,10)" stroke-width="0.3"/>
<ellipse cx="0" cy="0" rx="0.88" ry="1.01" fill="rgb(125,125,125)" stroke="rgb(75,75,75)" stroke-width="0.3"/>
</g>
<text font-size="5.60" color="#333" transform="translate(72.00 444.60) scale(1.0 1)" style="stroke-width:0.05px">85.4</text>
<text font-size="5.60" color="#333" transform="translate(92.30 444.60) scale(1.0 1)" style="stroke-width:0.05px">14.3</text>
<rect x="115.80" y="446.50" width="27.20" height="13.80" fill="none" stroke="#5a5a5a" stroke-width="0.5" />
<line x1="125.50" y1="446.50" x2="125.50" y2="460.30" stroke="#444" stroke-width="0.5" />
<ellipse cx="124.27" cy="452.40" rx="5.40" ry="2.88" fill="#bbb" stroke="#777" stroke-width="0.3"/>
<g transform="translate(121.30 452.60) rotate(0)" filter="url(#b0)">
<ellipse cx="0" cy="0" rx="4.30" ry="4.80" fill="rgb(170,170,170)" stroke="rgb(120,120,120)" stroke-width="0.3"/>
<ellipse cx="0" cy="0" rx="3.70" ry="4.13" fill="rgb(100,100,100)" stroke="rgb(50,50,50)" stroke-width="0.3"/>
<ellipse cx="0" cy="0" rx="3.10" ry="3.46" fill="rgb(40,40,40)" stroke="rgb(0,0,0)" stroke-width="0.3"/>
<ellipse cx="0" cy="0" rx="2.41" ry="2.69" fill="rgb(22,22,22)" stroke="rgb(0,0,0)" stroke-width="0.3"/>
<ellipse cx="0" cy="0" rx="1.72" ry="1.92" fill="rgb(60,60,60)" stroke="rgb(10,10,10)" stroke-width="0.3"/>
<ellipse cx="0" cy="0" rx="0.95" ry="1.06" fill="rgb(125,125,125)" stroke="rgb(75,75,75)" stroke-width="0.3"/>
</g>
<text font-size="5.60" color="#333" transform="translate(115.40 444.60) scale(1.0 1)" style="stroke-width:0.05px">87.0</text>
<text font-size="5.60" color="#333" transform="translate(133.60 444.60) scale(1.0 1)" style="stroke-width:0.05px">12.3</text>
<circle cx="128.2" cy="447.2" r="0.33" fill="#444"/>
<circle cx="130.8" cy="451.5" r="0.33" fill="#444"/>
<circle cx="131.0" cy="455.0" r="0.33" fill="#444"/>
<circle cx="129.0" cy="451.6" r="0.33" fill="#444"/>
<circle cx="127.9" cy="450.8" r="0.33" fill="#444"/>
<circle cx="127.6" cy="452.9" r="0.33" fill="#444"/>
<circle cx="129.1" cy="452.1" r="0.33" fill="#444"/>
<circle cx="128.6" cy="453.3" r="0.33" fill="#444"/>
<circle cx="130.1" cy="451.8" r="0.33" fill="#444"/>
<circle cx="130.5" cy="451.8" r="0.33" fill="#444"/>
<circle cx="126.5" cy="454.0" r="0.33" fill="#444"/>
<circle cx="130.0" cy="450.7" r="0.33" fill="#444"/>
<circle cx="131.4" cy="452.5" r="0.33" fill="#444"/>
<circle cx="125.6" cy="454.3" r="0.33" fill="#444"/>
<text x="21.20" y="461.20" font-size="7.6" textLength="11.6" lengthAdjust="spacingAndGlyphs" transform="rotate(-90 21.20 461.20)" style="stroke-width:0.3px">CD14</text>
<line x1="18.70" y1="445.80" x2="18.70" y2="431.70" stroke="#1c1c1c" stroke-width="0.7" />
<polygon points="18.70,429.20 20.10,432.20 17.30,432.20" fill="#1c1c1c"/>
<text x="39.40" y="474.00" font-size="7.6" textLength="14.7" lengthAdjust="spacingAndGlyphs" style="stroke-width:0.3px">CD11b</text>
<line x1="57.30" y1="471.20" x2="143.00" y2="471.20" stroke="#1c1c1c" stroke-width="0.7" />
<polygon points="145.50,471.20 142.50,472.60 142.50,469.80" fill="#1c1c1c"/>
<rect x="29.80" y="559.50" width="55.80" height="54.80" fill="#fff" stroke="#666" stroke-width="0.9" />
<line x1="29.60" y1="566.08" x2="31.10" y2="566.08" stroke="#666" stroke-width="0.5" />
<line x1="36.50" y1="614.50" x2="36.50" y2="613.00" stroke="#666" stroke-width="0.5" />
<line x1="29.60" y1="575.94" x2="31.10" y2="575.94" stroke="#666" stroke-width="0.5" />
<line x1="46.54" y1="614.50" x2="46.54" y2="613.00" stroke="#666" stroke-width="0.5" />
<line x1="29.60" y1="585.80" x2="31.10" y2="585.80" stroke="#666" stroke-width="0.5" />
<line x1="56.58" y1="614.50" x2="56.58" y2="613.00" stroke="#666" stroke-width="0.5" />
<line x1="29.60" y1="595.67" x2="31.10" y2="595.67" stroke="#666" stroke-width="0.5" />
<line x1="66.63" y1="614.50" x2="66.63" y2="613.00" stroke="#666" stroke-width="0.5" />
<line x1="29.60" y1="605.53" x2="31.10" y2="605.53" stroke="#666" stroke-width="0.5" />
<line x1="76.67" y1="614.50" x2="76.67" y2="613.00" stroke="#666" stroke-width="0.5" />
<g filter="url(#b1)">
<path d="M33 581 L85 577.5 L85 596 C70 599 50 597 40 600 C36 602 33.5 606 33 610 Z" fill="#d3d6f5" opacity="0.5"/>
<path d="M40 584 L85 580 L85 590 C70 592 52 592 42 594 Z" fill="#c0c6f0" opacity="0.45"/>
<path d="M32.2 572 L35.4 574 C36.4 582 37.4 590 35.4 598 C34.4 601 32.8 602 32.2 601 Z" fill="#4d66cf" opacity="0.8"/>
<path d="M32.4 580 L34.4 581 C35 586 35 591 34 595 L32.4 596 Z" fill="#39b9c8" opacity="0.8"/>
<path d="M32 570.6 C40 568.4 60 569.4 85 566.4 L85 574.6 C66 576 54 577.4 46 581.6 C41 584.4 36 586 32.4 584.6 Z" fill="url(#band1)" opacity="0.95"/>
<path d="M33 571.6 C44 570 62 571 85 568.4 L85 572 C66 573.4 54 574.4 46 578.6 C41.6 581 36.6 582.6 33 581.6 Z" fill="url(#band2)"/>
<path d="M33 572.4 C40 571.4 52 571.6 66 571 C56 573.4 49 575 44 579 C40.6 581.4 36 582 33.4 581 Z" fill="#2aa5c9"/>
</g>
<g filter="url(#b0)">
<ellipse cx="39.4" cy="577.4" rx="6.2" ry="4.2" fill="#35c48e" transform="rotate(-8 39.4 577.4)"/>
<ellipse cx="39.6" cy="577.6" rx="4.2" ry="2.9" fill="#9bd53a" transform="rotate(-8 39.6 577.6)"/>
<ellipse cx="39.8" cy="577.7" rx="2.9" ry="2.0" fill="#f6d21e"/>
<ellipse cx="39.8" cy="577.8" rx="1.7" ry="1.2" fill="#e8361c"/>
</g>
<path d="M32 573 C40 569.6 60 570.6 85.4 567.4 M49.6 582.4 C60 581.6 74 581 85.4 579.4" fill="none" stroke="#555" stroke-width="0.45"/>
<line x1="49.80" y1="582.20" x2="26.83" y2="618.78" stroke="#1c1c1c" stroke-width="0.8" />
<polygon points="25.50,620.90 25.82,617.56 28.37,619.16" fill="#1c1c1c"/>
<text x="27.40" y="611.60" font-size="9.7" textLength="15.6" lengthAdjust="spacingAndGlyphs" transform="rotate(-90 27.40 611.60)" style="stroke-width:0.45px">CD45</text>
<line x1="24.50" y1="594.40" x2="24.50" y2="563.50" stroke="#1c1c1c" stroke-width="0.8" />
<polygon points="24.50,560.60 26.10,564.00 22.90,564.00" fill="#1c1c1c"/>
<text x="34.80" y="624.20" font-size="9.7" textLength="18.6" lengthAdjust="spacingAndGlyphs" style="stroke-width:0.45px">SSC-A</text>
<line x1="55.20" y1="620.20" x2="81.50" y2="620.20" stroke="#1c1c1c" stroke-width="0.8" />
<polygon points="84.40,620.20 81.00,621.80 81.00,618.60" fill="#1c1c1c"/>
<rect x="29.80" y="626.50" width="55.30" height="55.00" fill="#fff" stroke="#666" stroke-width="0.9" />
<line x1="29.60" y1="633.10" x2="31.10" y2="633.10" stroke="#666" stroke-width="0.5" />
<line x1="36.44" y1="681.70" x2="36.44" y2="680.20" stroke="#666" stroke-width="0.5" />
<line x1="29.60" y1="643.00" x2="31.10" y2="643.00" stroke="#666" stroke-width="0.5" />
<line x1="46.39" y1="681.70" x2="46.39" y2="680.20" stroke="#666" stroke-width="0.5" />
<line x1="29.60" y1="652.90" x2="31.10" y2="652.90" stroke="#666" stroke-width="0.5" />
<line x1="56.34" y1="681.70" x2="56.34" y2="680.20" stroke="#666" stroke-width="0.5" />
<line x1="29.60" y1="662.80" x2="31.10" y2="662.80" stroke="#666" stroke-width="0.5" />
<line x1="66.30" y1="681.70" x2="66.30" y2="680.20" stroke="#666" stroke-width="0.5" />
<line x1="29.60" y1="672.70" x2="31.10" y2="672.70" stroke="#666" stroke-width="0.5" />
<line x1="76.25" y1="681.70" x2="76.25" y2="680.20" stroke="#666" stroke-width="0.5" />
<g filter="url(#b1)">
<path d="M43.4 669 C41.6 663 43.4 655 44 649 C44.2 643 46.4 638.6 50.4 638.4 C53.4 638.4 55.4 640.6 56.4 643 C61 641.6 70 637.6 79.8 633.4 C81.6 634 79.6 638 76.6 641.6 C73.4 646 69.4 652.6 63 654.4 C60.4 655 57.6 655 56 654.4 C55 658 52.4 662 50 665 C47.6 668 44.6 671 43.4 669 Z" fill="#95a4e4" opacity="0.75"/>
<path d="M44.6 664 C43.6 659 45 653 45.4 648.6 C45.6 644 47.6 640.6 50.6 640.4 C53.4 640.4 55 642.6 55.6 645.4 C56 649 55.4 653 53.6 657 C51.6 661 46.4 667.4 44.6 664 Z" fill="#6580d4" opacity="0.62" filter="url(#b2)"/>
<path d="M55.4 645.6 C60 643.4 70 639.6 78.8 634.6 C79.8 635.4 77.6 639 74.8 642.4 C71.6 646.4 68.6 651.6 62.6 653 C59.6 653.6 56.6 653 55.6 651.6 C54.8 650 54.6 647 55.4 645.6 Z" fill="#3f66c8"/>
</g>
<g filter="url(#b0)">
<ellipse cx="49.8" cy="645" rx="3.6" ry="3.4" fill="#3f9fc4"/>
<ellipse cx="49.6" cy="644.4" rx="2.0" ry="1.9" fill="#36b7a6"/>
<path d="M56.4 646.8 C60.6 644.4 69.6 640.6 77.6 636 C77.8 637.6 75.4 640.6 73 643.4 C70 647 67.4 650.8 62.4 651.8 C59.8 652.2 57.4 651.6 56.6 650.4 C56 649.4 55.8 647.6 56.4 646.8 Z" fill="#2db5a8"/>
<path d="M58 647.6 C62 645.6 69.6 642 75.6 638 C75.2 640 73.4 642 71.6 644 C69 647 66.6 649.8 62.4 650.6 C60.4 650.9 58.6 650.4 58 649.6 Z" fill="#62d25c"/>
<path d="M60.6 648.2 C64 646.4 69.6 643.6 73 640.8 C72.4 642.6 71 644 69.6 645.6 C67.6 647.8 65.6 649.4 62.8 649.8 C61.6 649.9 60.8 649.2 60.6 648.2 Z" fill="#e6de25"/>
<ellipse cx="67" cy="646.6" rx="3.2" ry="1.5" transform="rotate(-30 67 646.6)" fill="#f5961c"/>
<ellipse cx="67.5" cy="646.8" rx="1.8" ry="0.95" transform="rotate(-30 67.5 646.8)" fill="#e6341a"/>
</g>
<path d="M40.5 629 L82.5 629 L82.5 678 L40.5 678 Z M54.5 678 L55.5 646 L57.2 627 M40.5 648.5 L51 648.5 L66 629" fill="none" stroke="#3f4350" stroke-width="0.7"/>
<text x="27.50" y="680.80" font-size="9.7" textLength="16.4" lengthAdjust="spacingAndGlyphs" transform="rotate(-90 27.50 680.80)" style="stroke-width:0.45px">CD13</text>
<line x1="24.50" y1="658.60" x2="24.50" y2="629.50" stroke="#1c1c1c" stroke-width="0.8" />
<polygon points="24.50,626.60 26.10,630.00 22.90,630.00" fill="#1c1c1c"/>
<text x="34.80" y="691.40" font-size="9.7" textLength="15.4" lengthAdjust="spacingAndGlyphs" style="stroke-width:0.45px">CD16</text>
<line x1="52.80" y1="686.60" x2="80.70" y2="686.60" stroke="#1c1c1c" stroke-width="0.8" />
<polygon points="83.60,686.60 80.20,688.20 80.20,685.00" fill="#1c1c1c"/>
</svg>
</body>
</html>
